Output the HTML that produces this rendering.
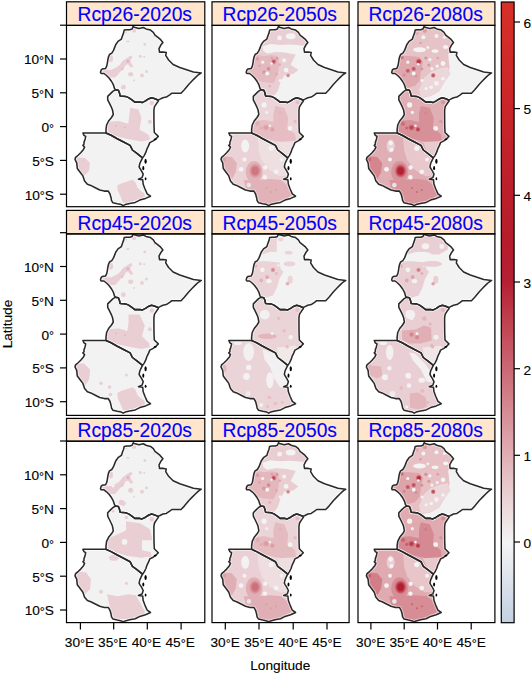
<!DOCTYPE html><html><head><meta charset="utf-8"><style>html,body{margin:0;padding:0;background:#fff;}svg{display:block}</style></head><body>
<svg width="532" height="673" viewBox="0 0 532 673">
<defs>
<clipPath id="land" clipPathUnits="userSpaceOnUse"><polygon points="133.2,26.4 134.3,27.3 138.9,28.4 143.4,27.5 146.0,28.9 150.5,30.1 153.3,32.3 155.0,35.1 157.3,36.8 160.1,39.1 162.9,42.5 160.7,45.3 159.0,48.7 159.5,52.1 163.5,52.1 166.3,52.6 165.7,55.4 168.6,60.0 173.1,64.5 179.8,67.5 186.6,69.8 193.4,72.0 201.3,72.9 198.4,74.8 195.6,77.4 192.2,80.8 188.9,84.2 186.6,87.0 184.3,89.8 181.0,93.2 176.4,93.2 171.9,93.2 169.7,94.9 166.3,97.1 162.9,97.7 159.5,99.4 157.8,100.0 155.0,98.8 151.6,97.7 148.9,98.7 145.5,100.9 142.1,102.6 139.8,102.1 134.8,102.1 131.9,99.8 128.6,97.6 125.7,96.4 120.1,95.9 119.5,93.0 118.4,90.2 115.6,89.7 114.5,88.5 113.3,84.6 111.6,81.5 109.0,78.0 106.5,75.5 103.9,73.5 101.1,73.5 100.5,72.4 101.1,70.1 102.2,69.0 105.6,68.4 106.7,66.2 107.3,63.3 107.8,60.0 108.4,57.1 109.5,54.5 111.8,53.2 113.5,50.4 114.6,47.6 115.7,44.7 118.0,41.4 121.4,39.1 122.5,35.7 123.6,32.9 124.2,30.1 126.5,29.7 129.8,29.7 132.1,28.9"/><polygon points="115.6,89.7 118.4,90.2 119.5,93.0 120.1,95.9 125.7,96.4 128.6,97.6 131.9,99.8 134.8,102.1 139.8,102.1 142.1,102.6 145.5,100.9 148.9,98.7 151.6,97.7 155.0,98.8 157.8,100.0 158.4,101.1 156.7,103.3 154.5,106.7 153.9,110.1 153.9,115.0 154.0,125.8 154.3,132.5 158.3,136.4 155.5,139.2 153.2,140.9 149.8,142.6 148.7,145.4 147.0,148.8 145.9,152.2 144.2,155.6 142.5,157.9 141.9,157.3 136.9,153.3 132.4,150.0 130.1,145.4 122.6,141.5 116.8,138.5 111.1,135.3 106.0,133.0 106.0,129.5 106.6,125.0 108.6,121.0 111.5,117.5 113.3,114.5 112.5,110.0 111.6,107.7 109.4,103.2 107.7,99.8 107.7,96.4 110.5,93.6 112.8,91.4"/><polygon points="106.0,133.0 82.9,133.0 84.0,135.3 85.7,136.4 85.2,138.7 84.6,140.9 84.0,142.1 84.0,144.3 82.9,145.4 84.6,147.1 83.5,149.4 80.7,152.8 78.4,155.0 75.6,157.3 75.0,159.5 76.7,162.9 77.3,168.5 80.7,173.0 82.9,175.9 84.6,180.9 87.4,184.3 90.8,185.4 95.3,187.7 99.8,190.0 104.3,191.1 108.3,191.1 110.0,194.0 111.1,198.0 111.5,200.5 113.0,202.8 117.3,203.8 121.3,204.6 123.2,205.6 125.2,204.6 129.7,203.5 135.3,202.4 139.8,200.1 145.5,198.4 150.5,196.2 147.2,193.9 144.9,188.8 143.2,184.3 142.7,179.8 138.4,179.2 142.1,177.6 143.2,174.2 141.5,170.8 140.0,168.5 139.1,166.9 139.8,163.5 141.4,160.1 142.5,157.9 141.9,157.3 136.9,153.3 132.4,150.0 130.1,145.4 122.6,141.5 116.8,138.5 111.1,135.3"/></clipPath>
<filter id="bl" x="-20%" y="-20%" width="140%" height="140%"><feGaussianBlur stdDeviation="0.6"/></filter>
<filter id="bl2" x="-20%" y="-20%" width="140%" height="140%"><feGaussianBlur stdDeviation="1.6"/></filter>
<linearGradient id="cb" x1="0" y1="0" x2="0" y2="1"><stop offset="0.0" stop-color="#D82F28"/><stop offset="0.1718" stop-color="#C8262A"/><stop offset="0.3115" stop-color="#BA1F2B"/><stop offset="0.3813" stop-color="#B71C2C"/><stop offset="0.4511" stop-color="#B42033"/><stop offset="0.5209" stop-color="#C14452"/><stop offset="0.5908" stop-color="#CA6874"/><stop offset="0.6606" stop-color="#D68C94"/><stop offset="0.7304" stop-color="#E0AFB5"/><stop offset="0.7654" stop-color="#E6C1C5"/><stop offset="0.8003" stop-color="#EAD2D6"/><stop offset="0.8352" stop-color="#EFE2E3"/><stop offset="0.8701" stop-color="#F4F4F4"/><stop offset="0.9399" stop-color="#DAE0EA"/><stop offset="1.0" stop-color="#C2D1E2"/></linearGradient>
</defs>
<g transform="matrix(1.0,0,0,1,0.0,0)">
<g clip-path="url(#land)">
<g filter="url(#bl)"><rect x="60" y="20" width="150" height="190" fill="#F3F2F2"/>
<polygon points="101.4,70.9 107,69.7 111.5,69.7 116,67.5 119.4,65.2 122.8,60.7 126.2,58.4 129.6,56.2 131.8,55.6 132.4,57.3 130.1,60.7 131.8,64.1 133.5,66.3 130.7,67.5 127.9,64.1 125.6,65.2 123.9,68.6 120,72 117.2,75.4 114.9,77.6 110.4,77.6 107,75.4 103.6,73.1" fill="#E9CFD3"/>
<ellipse cx="110.8" cy="58.5" rx="2.2" ry="3.5" fill="#E9CFD3"/>
<circle cx="127.9" cy="61.3" r="1.3" fill="#E0AFB5"/>
<circle cx="122.2" cy="69.2" r="1.1" fill="#E5BDC2"/>
<circle cx="134.1" cy="30.8" r="2.0" fill="#E9CFD3"/>
<ellipse cx="127.9" cy="41.5" rx="1.6" ry="0.9" fill="#E9CFD3"/>
<circle cx="144.8" cy="44.4" r="1.4" fill="#E9CFD3"/>
<circle cx="140.3" cy="56.2" r="1.5" fill="#E9CFD3"/>
<circle cx="144.2" cy="56.8" r="1.0" fill="#E9CFD3"/>
<ellipse cx="130.7" cy="74.2" rx="2.6" ry="2.2" fill="#E9CFD3"/>
<circle cx="142" cy="75.4" r="1.9" fill="#E9CFD3"/>
<circle cx="146.5" cy="71.4" r="1.5" fill="#E9CFD3"/>
<circle cx="134.1" cy="80.4" r="1.0" fill="#E9CFD3"/>
<circle cx="123.4" cy="87.2" r="2.4" fill="#E9CFD3"/>
<circle cx="126.2" cy="32" r="1.0" fill="#E9CFD3"/>
<circle cx="154.4" cy="36.5" r="1.0" fill="#E9CFD3"/>
<circle cx="151.8" cy="103" r="2.2" fill="#E9CFD3"/>
<circle cx="149.9" cy="121.8" r="2.0" fill="#E9CFD3"/>
<polygon points="130.2,107.7 138.6,109.6 141.4,118.1 139.5,129.4 148.9,135 149.9,139.7 141.4,141.6 126.4,138.8 115.1,135.9 107.6,132.2 107.6,121.8 118.9,120.9 128.3,123.7 129.2,116.2" fill="#E9CFD3"/>
<circle cx="116" cy="126" r="1.0" fill="#E4BABF"/>
<circle cx="125" cy="127.5" r="1.0" fill="#E4BABF"/>
<polygon points="75,157 85,158 90,163 89,171 83,177 77,168" fill="#E9CFD3"/>
<polygon points="117.3,185.4 121.8,183.2 128.6,180.9 132.5,179.8 135.3,182.1 137.6,187.7 141,191.1 144.3,193.3 144.9,196.7 139.8,199 133.1,201.2 126.3,202.9 122.9,202.4 120.7,196.7 117.8,191.1" fill="#E9CFD3"/></g>
</g>
<polygon points="133.2,26.4 134.3,27.3 138.9,28.4 143.4,27.5 146.0,28.9 150.5,30.1 153.3,32.3 155.0,35.1 157.3,36.8 160.1,39.1 162.9,42.5 160.7,45.3 159.0,48.7 159.5,52.1 163.5,52.1 166.3,52.6 165.7,55.4 168.6,60.0 173.1,64.5 179.8,67.5 186.6,69.8 193.4,72.0 201.3,72.9 198.4,74.8 195.6,77.4 192.2,80.8 188.9,84.2 186.6,87.0 184.3,89.8 181.0,93.2 176.4,93.2 171.9,93.2 169.7,94.9 166.3,97.1 162.9,97.7 159.5,99.4 157.8,100.0 155.0,98.8 151.6,97.7 148.9,98.7 145.5,100.9 142.1,102.6 139.8,102.1 134.8,102.1 131.9,99.8 128.6,97.6 125.7,96.4 120.1,95.9 119.5,93.0 118.4,90.2 115.6,89.7 114.5,88.5 113.3,84.6 111.6,81.5 109.0,78.0 106.5,75.5 103.9,73.5 101.1,73.5 100.5,72.4 101.1,70.1 102.2,69.0 105.6,68.4 106.7,66.2 107.3,63.3 107.8,60.0 108.4,57.1 109.5,54.5 111.8,53.2 113.5,50.4 114.6,47.6 115.7,44.7 118.0,41.4 121.4,39.1 122.5,35.7 123.6,32.9 124.2,30.1 126.5,29.7 129.8,29.7 132.1,28.9" fill="none" stroke="#fff" stroke-opacity="0.5" stroke-width="3.4" stroke-linejoin="round"/>
<polygon points="115.6,89.7 118.4,90.2 119.5,93.0 120.1,95.9 125.7,96.4 128.6,97.6 131.9,99.8 134.8,102.1 139.8,102.1 142.1,102.6 145.5,100.9 148.9,98.7 151.6,97.7 155.0,98.8 157.8,100.0 158.4,101.1 156.7,103.3 154.5,106.7 153.9,110.1 153.9,115.0 154.0,125.8 154.3,132.5 158.3,136.4 155.5,139.2 153.2,140.9 149.8,142.6 148.7,145.4 147.0,148.8 145.9,152.2 144.2,155.6 142.5,157.9 141.9,157.3 136.9,153.3 132.4,150.0 130.1,145.4 122.6,141.5 116.8,138.5 111.1,135.3 106.0,133.0 106.0,129.5 106.6,125.0 108.6,121.0 111.5,117.5 113.3,114.5 112.5,110.0 111.6,107.7 109.4,103.2 107.7,99.8 107.7,96.4 110.5,93.6 112.8,91.4" fill="none" stroke="#fff" stroke-opacity="0.5" stroke-width="3.4" stroke-linejoin="round"/>
<polygon points="106.0,133.0 82.9,133.0 84.0,135.3 85.7,136.4 85.2,138.7 84.6,140.9 84.0,142.1 84.0,144.3 82.9,145.4 84.6,147.1 83.5,149.4 80.7,152.8 78.4,155.0 75.6,157.3 75.0,159.5 76.7,162.9 77.3,168.5 80.7,173.0 82.9,175.9 84.6,180.9 87.4,184.3 90.8,185.4 95.3,187.7 99.8,190.0 104.3,191.1 108.3,191.1 110.0,194.0 111.1,198.0 111.5,200.5 113.0,202.8 117.3,203.8 121.3,204.6 123.2,205.6 125.2,204.6 129.7,203.5 135.3,202.4 139.8,200.1 145.5,198.4 150.5,196.2 147.2,193.9 144.9,188.8 143.2,184.3 142.7,179.8 138.4,179.2 142.1,177.6 143.2,174.2 141.5,170.8 140.0,168.5 139.1,166.9 139.8,163.5 141.4,160.1 142.5,157.9 141.9,157.3 136.9,153.3 132.4,150.0 130.1,145.4 122.6,141.5 116.8,138.5 111.1,135.3" fill="none" stroke="#fff" stroke-opacity="0.5" stroke-width="3.4" stroke-linejoin="round"/>
<polygon points="133.2,26.4 134.3,27.3 138.9,28.4 143.4,27.5 146.0,28.9 150.5,30.1 153.3,32.3 155.0,35.1 157.3,36.8 160.1,39.1 162.9,42.5 160.7,45.3 159.0,48.7 159.5,52.1 163.5,52.1 166.3,52.6 165.7,55.4 168.6,60.0 173.1,64.5 179.8,67.5 186.6,69.8 193.4,72.0 201.3,72.9 198.4,74.8 195.6,77.4 192.2,80.8 188.9,84.2 186.6,87.0 184.3,89.8 181.0,93.2 176.4,93.2 171.9,93.2 169.7,94.9 166.3,97.1 162.9,97.7 159.5,99.4 157.8,100.0 155.0,98.8 151.6,97.7 148.9,98.7 145.5,100.9 142.1,102.6 139.8,102.1 134.8,102.1 131.9,99.8 128.6,97.6 125.7,96.4 120.1,95.9 119.5,93.0 118.4,90.2 115.6,89.7 114.5,88.5 113.3,84.6 111.6,81.5 109.0,78.0 106.5,75.5 103.9,73.5 101.1,73.5 100.5,72.4 101.1,70.1 102.2,69.0 105.6,68.4 106.7,66.2 107.3,63.3 107.8,60.0 108.4,57.1 109.5,54.5 111.8,53.2 113.5,50.4 114.6,47.6 115.7,44.7 118.0,41.4 121.4,39.1 122.5,35.7 123.6,32.9 124.2,30.1 126.5,29.7 129.8,29.7 132.1,28.9" fill="none" stroke="#2a2a2a" stroke-width="1.55" stroke-linejoin="round"/>
<polygon points="115.6,89.7 118.4,90.2 119.5,93.0 120.1,95.9 125.7,96.4 128.6,97.6 131.9,99.8 134.8,102.1 139.8,102.1 142.1,102.6 145.5,100.9 148.9,98.7 151.6,97.7 155.0,98.8 157.8,100.0 158.4,101.1 156.7,103.3 154.5,106.7 153.9,110.1 153.9,115.0 154.0,125.8 154.3,132.5 158.3,136.4 155.5,139.2 153.2,140.9 149.8,142.6 148.7,145.4 147.0,148.8 145.9,152.2 144.2,155.6 142.5,157.9 141.9,157.3 136.9,153.3 132.4,150.0 130.1,145.4 122.6,141.5 116.8,138.5 111.1,135.3 106.0,133.0 106.0,129.5 106.6,125.0 108.6,121.0 111.5,117.5 113.3,114.5 112.5,110.0 111.6,107.7 109.4,103.2 107.7,99.8 107.7,96.4 110.5,93.6 112.8,91.4" fill="none" stroke="#2a2a2a" stroke-width="1.55" stroke-linejoin="round"/>
<polygon points="106.0,133.0 82.9,133.0 84.0,135.3 85.7,136.4 85.2,138.7 84.6,140.9 84.0,142.1 84.0,144.3 82.9,145.4 84.6,147.1 83.5,149.4 80.7,152.8 78.4,155.0 75.6,157.3 75.0,159.5 76.7,162.9 77.3,168.5 80.7,173.0 82.9,175.9 84.6,180.9 87.4,184.3 90.8,185.4 95.3,187.7 99.8,190.0 104.3,191.1 108.3,191.1 110.0,194.0 111.1,198.0 111.5,200.5 113.0,202.8 117.3,203.8 121.3,204.6 123.2,205.6 125.2,204.6 129.7,203.5 135.3,202.4 139.8,200.1 145.5,198.4 150.5,196.2 147.2,193.9 144.9,188.8 143.2,184.3 142.7,179.8 138.4,179.2 142.1,177.6 143.2,174.2 141.5,170.8 140.0,168.5 139.1,166.9 139.8,163.5 141.4,160.1 142.5,157.9 141.9,157.3 136.9,153.3 132.4,150.0 130.1,145.4 122.6,141.5 116.8,138.5 111.1,135.3" fill="none" stroke="#2a2a2a" stroke-width="1.55" stroke-linejoin="round"/>
<ellipse cx="145.6" cy="161.3" rx="1.15" ry="2.5" fill="#000"/>
<ellipse cx="143.3" cy="168.2" rx="1.0" ry="2.1" fill="#000"/>
<ellipse cx="145.6" cy="178.8" rx="0.9" ry="1.5" fill="#000"/>
<ellipse cx="155.2" cy="139.3" rx="1.4" ry="0.9" fill="#000"/>
</g>
<g transform="matrix(0.988,0,0,1,146.9,0)">
<g clip-path="url(#land)">
<g filter="url(#bl)"><rect x="60" y="20" width="150" height="190" fill="#F3F2F2"/>
<polygon points="95,20 157,20 161,30 161.3,44 150.8,54.3 145.5,64.8 153.4,70.1 148.1,74.1 138.9,75.4 135,83.3 132.3,91.2 125,100 95,100" fill="#E9CFD3"/>
<polygon points="117,46.5 125,44 135,45 145,44.5 152,45 162,46 162,54 150,54.5 140,52.5 130,52 122,53.5 118,51" fill="#F4F3F3"/>
<polygon points="100,56 108.7,54.3 118,56 126,55 132.3,56 134,64 132.3,75 128,83.3 118,82 108.7,80 100,74" fill="#E4BABF"/>
<ellipse cx="128.4" cy="61.6" rx="2.60" ry="2.60" fill="#DEA9AF"/>
<ellipse cx="128.4" cy="61.6" rx="2.33" ry="2.33" fill="#D9989F"/>
<ellipse cx="128.4" cy="61.6" rx="2.06" ry="2.06" fill="#D4878F"/>
<ellipse cx="128.4" cy="61.6" rx="1.79" ry="1.79" fill="#CE7580"/>
<ellipse cx="128.4" cy="61.6" rx="1.53" ry="1.53" fill="#C96470"/>
<ellipse cx="128.4" cy="61.6" rx="1.26" ry="1.26" fill="#C55260"/>
<circle cx="131.7" cy="58.3" r="1.6" fill="#DB9EA4"/>
<ellipse cx="123.1" cy="68.8" rx="2.20" ry="2.20" fill="#DFAAB1"/>
<ellipse cx="123.1" cy="68.8" rx="1.75" ry="1.75" fill="#DA9BA2"/>
<ellipse cx="123.1" cy="68.8" rx="1.29" ry="1.29" fill="#D68C94"/>
<circle cx="111.9" cy="58.9" r="1.8" fill="#DCA1A8"/>
<circle cx="118.5" cy="72.1" r="1.9" fill="#DA9AA1"/>
<ellipse cx="142.9" cy="75.4" rx="2.00" ry="2.00" fill="#E4BCC1"/>
<ellipse cx="142.9" cy="75.4" rx="1.69" ry="1.69" fill="#DEAAB0"/>
<ellipse cx="142.9" cy="75.4" rx="1.38" ry="1.38" fill="#D9979F"/>
<ellipse cx="142.9" cy="75.4" rx="1.07" ry="1.07" fill="#D4858E"/>
<circle cx="131" cy="74.1" r="1.5" fill="#E0AFB5"/>
<circle cx="124.4" cy="85.9" r="1.5" fill="#E2B6BB"/>
<circle cx="126.5" cy="58" r="1.2" fill="#DCA1A8"/>
<circle cx="134.5" cy="64.5" r="1.2" fill="#DEA8AE"/>
<circle cx="114" cy="66" r="1.3" fill="#DEA8AE"/>
<circle cx="134.3" cy="37.9" r="2.4" fill="#F4F3F3"/>
<ellipse cx="145.5" cy="36.2" rx="5" ry="3" fill="#F4F3F3"/>
<circle cx="117.2" cy="62.2" r="1.6" fill="#F4F3F3"/>
<circle cx="121.8" cy="73.4" r="2.0" fill="#F4F3F3"/>
<circle cx="138.9" cy="60.2" r="2.0" fill="#F4F3F3"/>
<circle cx="140.9" cy="70.1" r="2.4" fill="#F4F3F3"/>
<circle cx="135" cy="80.6" r="1.6" fill="#F4F3F3"/>
<circle cx="126.2" cy="63.5" r="1.2" fill="#F4F3F3"/>
<polygon points="115.6,89.7 118.4,90.2 119.5,93 120.1,95.9 125.7,96.4 128.6,97.6 131.9,99.8 134.8,102.1 139.8,102.1 142.1,102.6 145.5,100.9 148.9,98.7 151.6,97.7 155,98.8 157.8,100 158.4,101.1 156.7,103.3 154.5,106.7 153.9,110.1 153.9,115 154,125.8 154.3,132.5 158.3,136.4 155.5,139.2 153.2,140.9 149.8,142.6 148.7,145.4 147,148.8 145.9,152.2 144.2,155.6 142.5,157.9 141.9,157.3 136.9,153.3 132.4,150 130.1,145.4 122.6,141.5 116.8,138.5 111.1,135.3 106,133 106,129.5 106.6,125 108.6,121 111.5,117.5 113.3,114.5 112.5,110 111.6,107.7 109.4,103.2 107.7,99.8 107.7,96.4 110.5,93.6 112.8,91.4" fill="#EBD5D9"/>
<polygon points="130,106 139,108 143,118 142,128 150,134 151,141 141,143 126,140 114,137 107,133 107,121 119,120 128,122 128,114" fill="#E5BDC2"/>
<polygon points="132,142 150,141 153,143 143,158 138,155" fill="#EEDFE0"/>
<ellipse cx="120.5" cy="127.5" rx="3.00" ry="3.00" fill="#E0AFB5"/>
<ellipse cx="120.5" cy="127.5" rx="2.07" ry="2.07" fill="#DCA1A8"/>
<ellipse cx="127" cy="129.4" rx="2.40" ry="2.40" fill="#E0AFB5"/>
<ellipse cx="127" cy="129.4" rx="1.66" ry="1.66" fill="#DCA1A8"/>
<ellipse cx="112" cy="123.7" rx="2.20" ry="2.20" fill="#E0AFB5"/>
<circle cx="152.4" cy="102.1" r="2.0" fill="#E5BDC2"/>
<circle cx="150" cy="121.5" r="1.8" fill="#E5BDC2"/>
<circle cx="135" cy="113" r="1.6" fill="#E2B6BB"/>
<circle cx="115.7" cy="128" r="1.6" fill="#E0AFB5"/>
<circle cx="118.6" cy="104.9" r="2.6" fill="#F4F3F3"/>
<circle cx="144.9" cy="128.4" r="2.4" fill="#F4F3F3"/>
<circle cx="121.4" cy="112.4" r="1.6" fill="#F2EEEF"/>
<circle cx="124.5" cy="125.8" r="1.3" fill="#F2EEEF"/>
<polygon points="106,133 82.9,133 84,135.3 85.7,136.4 85.2,138.7 84.6,140.9 84,142.1 84,144.3 82.9,145.4 84.6,147.1 83.5,149.4 80.7,152.8 78.4,155 75.6,157.3 75,159.5 76.7,162.9 77.3,168.5 80.7,173 82.9,175.9 84.6,180.9 87.4,184.3 90.8,185.4 95.3,187.7 99.8,190 104.3,191.1 108.3,191.1 110,194 111.1,198 111.5,200.5 113,202.8 117.3,203.8 121.3,204.6 123.2,205.6 125.2,204.6 129.7,203.5 135.3,202.4 139.8,200.1 145.5,198.4 150.5,196.2 147.2,193.9 144.9,188.8 143.2,184.3 142.7,179.8 138.4,179.2 142.1,177.6 143.2,174.2 141.5,170.8 140,168.5 139.1,166.9 139.8,163.5 141.4,160.1 142.5,157.9 141.9,157.3 136.9,153.3 132.4,150 130.1,145.4 122.6,141.5 116.8,138.5 111.1,135.3" fill="#EAD2D6"/>
<polygon points="112,137 132,148 142,158 142,176 134,176 124,170 116,160 113,150" fill="#EEDFE0"/>
<ellipse cx="99.5" cy="146" rx="4" ry="6.5" fill="#F3F2F2"/>
<polygon points="74,156 86,157 91,163 90,172 86,179 76,168" fill="#E1B3B8"/>
<circle cx="77.7" cy="159.5" r="2.2" fill="#DCA1A8"/>
<polygon points="98,180 112,180 125,179 136,180 142,185 147,195 140,200 125,205 112,203 108,192 100,188" fill="#E1B3B8"/>
<ellipse cx="108.5" cy="172" rx="8.5" ry="11" fill="#E1B3B8"/>
<ellipse cx="109.5" cy="170.8" rx="6.00" ry="7.00" fill="#DB9FA6"/>
<ellipse cx="109.5" cy="170.8" rx="4.76" ry="5.55" fill="#D68B93"/>
<ellipse cx="109.5" cy="170.8" rx="3.52" ry="4.11" fill="#CF7681"/>
<circle cx="121" cy="188" r="1.0" fill="#DCA1A8"/>
<circle cx="126" cy="192" r="1.0" fill="#DCA1A8"/>
<circle cx="131" cy="190" r="1.0" fill="#DCA1A8"/>
<circle cx="99.5" cy="143" r="2.2" fill="#F4F3F3"/>
<circle cx="100.3" cy="149.8" r="2.0" fill="#F4F3F3"/>
<circle cx="98.8" cy="159.5" r="2.0" fill="#F4F3F3"/>
<circle cx="95.3" cy="169.3" r="2.4" fill="#F4F3F3"/>
<circle cx="119.7" cy="167.5" r="2.2" fill="#F4F3F3"/>
<circle cx="125.8" cy="148.3" r="2.6" fill="#F4F3F3"/>
<circle cx="130.8" cy="171.8" r="2.4" fill="#F4F3F3"/>
<circle cx="119.4" cy="177.3" r="2.2" fill="#F4F3F3"/>
<circle cx="103.2" cy="185.1" r="2.3" fill="#E2E6ED"/>
<circle cx="136.2" cy="159.5" r="2.0" fill="#F4F3F3"/></g>
</g>
<polygon points="133.2,26.4 134.3,27.3 138.9,28.4 143.4,27.5 146.0,28.9 150.5,30.1 153.3,32.3 155.0,35.1 157.3,36.8 160.1,39.1 162.9,42.5 160.7,45.3 159.0,48.7 159.5,52.1 163.5,52.1 166.3,52.6 165.7,55.4 168.6,60.0 173.1,64.5 179.8,67.5 186.6,69.8 193.4,72.0 201.3,72.9 198.4,74.8 195.6,77.4 192.2,80.8 188.9,84.2 186.6,87.0 184.3,89.8 181.0,93.2 176.4,93.2 171.9,93.2 169.7,94.9 166.3,97.1 162.9,97.7 159.5,99.4 157.8,100.0 155.0,98.8 151.6,97.7 148.9,98.7 145.5,100.9 142.1,102.6 139.8,102.1 134.8,102.1 131.9,99.8 128.6,97.6 125.7,96.4 120.1,95.9 119.5,93.0 118.4,90.2 115.6,89.7 114.5,88.5 113.3,84.6 111.6,81.5 109.0,78.0 106.5,75.5 103.9,73.5 101.1,73.5 100.5,72.4 101.1,70.1 102.2,69.0 105.6,68.4 106.7,66.2 107.3,63.3 107.8,60.0 108.4,57.1 109.5,54.5 111.8,53.2 113.5,50.4 114.6,47.6 115.7,44.7 118.0,41.4 121.4,39.1 122.5,35.7 123.6,32.9 124.2,30.1 126.5,29.7 129.8,29.7 132.1,28.9" fill="none" stroke="#fff" stroke-opacity="0.5" stroke-width="3.4" stroke-linejoin="round"/>
<polygon points="115.6,89.7 118.4,90.2 119.5,93.0 120.1,95.9 125.7,96.4 128.6,97.6 131.9,99.8 134.8,102.1 139.8,102.1 142.1,102.6 145.5,100.9 148.9,98.7 151.6,97.7 155.0,98.8 157.8,100.0 158.4,101.1 156.7,103.3 154.5,106.7 153.9,110.1 153.9,115.0 154.0,125.8 154.3,132.5 158.3,136.4 155.5,139.2 153.2,140.9 149.8,142.6 148.7,145.4 147.0,148.8 145.9,152.2 144.2,155.6 142.5,157.9 141.9,157.3 136.9,153.3 132.4,150.0 130.1,145.4 122.6,141.5 116.8,138.5 111.1,135.3 106.0,133.0 106.0,129.5 106.6,125.0 108.6,121.0 111.5,117.5 113.3,114.5 112.5,110.0 111.6,107.7 109.4,103.2 107.7,99.8 107.7,96.4 110.5,93.6 112.8,91.4" fill="none" stroke="#fff" stroke-opacity="0.5" stroke-width="3.4" stroke-linejoin="round"/>
<polygon points="106.0,133.0 82.9,133.0 84.0,135.3 85.7,136.4 85.2,138.7 84.6,140.9 84.0,142.1 84.0,144.3 82.9,145.4 84.6,147.1 83.5,149.4 80.7,152.8 78.4,155.0 75.6,157.3 75.0,159.5 76.7,162.9 77.3,168.5 80.7,173.0 82.9,175.9 84.6,180.9 87.4,184.3 90.8,185.4 95.3,187.7 99.8,190.0 104.3,191.1 108.3,191.1 110.0,194.0 111.1,198.0 111.5,200.5 113.0,202.8 117.3,203.8 121.3,204.6 123.2,205.6 125.2,204.6 129.7,203.5 135.3,202.4 139.8,200.1 145.5,198.4 150.5,196.2 147.2,193.9 144.9,188.8 143.2,184.3 142.7,179.8 138.4,179.2 142.1,177.6 143.2,174.2 141.5,170.8 140.0,168.5 139.1,166.9 139.8,163.5 141.4,160.1 142.5,157.9 141.9,157.3 136.9,153.3 132.4,150.0 130.1,145.4 122.6,141.5 116.8,138.5 111.1,135.3" fill="none" stroke="#fff" stroke-opacity="0.5" stroke-width="3.4" stroke-linejoin="round"/>
<polygon points="133.2,26.4 134.3,27.3 138.9,28.4 143.4,27.5 146.0,28.9 150.5,30.1 153.3,32.3 155.0,35.1 157.3,36.8 160.1,39.1 162.9,42.5 160.7,45.3 159.0,48.7 159.5,52.1 163.5,52.1 166.3,52.6 165.7,55.4 168.6,60.0 173.1,64.5 179.8,67.5 186.6,69.8 193.4,72.0 201.3,72.9 198.4,74.8 195.6,77.4 192.2,80.8 188.9,84.2 186.6,87.0 184.3,89.8 181.0,93.2 176.4,93.2 171.9,93.2 169.7,94.9 166.3,97.1 162.9,97.7 159.5,99.4 157.8,100.0 155.0,98.8 151.6,97.7 148.9,98.7 145.5,100.9 142.1,102.6 139.8,102.1 134.8,102.1 131.9,99.8 128.6,97.6 125.7,96.4 120.1,95.9 119.5,93.0 118.4,90.2 115.6,89.7 114.5,88.5 113.3,84.6 111.6,81.5 109.0,78.0 106.5,75.5 103.9,73.5 101.1,73.5 100.5,72.4 101.1,70.1 102.2,69.0 105.6,68.4 106.7,66.2 107.3,63.3 107.8,60.0 108.4,57.1 109.5,54.5 111.8,53.2 113.5,50.4 114.6,47.6 115.7,44.7 118.0,41.4 121.4,39.1 122.5,35.7 123.6,32.9 124.2,30.1 126.5,29.7 129.8,29.7 132.1,28.9" fill="none" stroke="#2a2a2a" stroke-width="1.55" stroke-linejoin="round"/>
<polygon points="115.6,89.7 118.4,90.2 119.5,93.0 120.1,95.9 125.7,96.4 128.6,97.6 131.9,99.8 134.8,102.1 139.8,102.1 142.1,102.6 145.5,100.9 148.9,98.7 151.6,97.7 155.0,98.8 157.8,100.0 158.4,101.1 156.7,103.3 154.5,106.7 153.9,110.1 153.9,115.0 154.0,125.8 154.3,132.5 158.3,136.4 155.5,139.2 153.2,140.9 149.8,142.6 148.7,145.4 147.0,148.8 145.9,152.2 144.2,155.6 142.5,157.9 141.9,157.3 136.9,153.3 132.4,150.0 130.1,145.4 122.6,141.5 116.8,138.5 111.1,135.3 106.0,133.0 106.0,129.5 106.6,125.0 108.6,121.0 111.5,117.5 113.3,114.5 112.5,110.0 111.6,107.7 109.4,103.2 107.7,99.8 107.7,96.4 110.5,93.6 112.8,91.4" fill="none" stroke="#2a2a2a" stroke-width="1.55" stroke-linejoin="round"/>
<polygon points="106.0,133.0 82.9,133.0 84.0,135.3 85.7,136.4 85.2,138.7 84.6,140.9 84.0,142.1 84.0,144.3 82.9,145.4 84.6,147.1 83.5,149.4 80.7,152.8 78.4,155.0 75.6,157.3 75.0,159.5 76.7,162.9 77.3,168.5 80.7,173.0 82.9,175.9 84.6,180.9 87.4,184.3 90.8,185.4 95.3,187.7 99.8,190.0 104.3,191.1 108.3,191.1 110.0,194.0 111.1,198.0 111.5,200.5 113.0,202.8 117.3,203.8 121.3,204.6 123.2,205.6 125.2,204.6 129.7,203.5 135.3,202.4 139.8,200.1 145.5,198.4 150.5,196.2 147.2,193.9 144.9,188.8 143.2,184.3 142.7,179.8 138.4,179.2 142.1,177.6 143.2,174.2 141.5,170.8 140.0,168.5 139.1,166.9 139.8,163.5 141.4,160.1 142.5,157.9 141.9,157.3 136.9,153.3 132.4,150.0 130.1,145.4 122.6,141.5 116.8,138.5 111.1,135.3" fill="none" stroke="#2a2a2a" stroke-width="1.55" stroke-linejoin="round"/>
<ellipse cx="145.6" cy="161.3" rx="1.15" ry="2.5" fill="#000"/>
<ellipse cx="143.3" cy="168.2" rx="1.0" ry="2.1" fill="#000"/>
<ellipse cx="145.6" cy="178.8" rx="0.9" ry="1.5" fill="#000"/>
<ellipse cx="155.2" cy="139.3" rx="1.4" ry="0.9" fill="#000"/>
</g>
<g transform="matrix(0.9913,0,0,1,292.05,0)">
<g clip-path="url(#land)">
<g filter="url(#bl)"><rect x="60" y="20" width="150" height="190" fill="#F3F2F2"/>
<polygon points="95,20 165,20 165,45 157.5,54.3 158.9,67.5 157.5,74.1 152.3,84.6 148.3,91.2 140,96 130,98 95,100" fill="#E6C3C7"/>
<polygon points="133,78 140,72 150,68 157,67 160,74 152,84.6 148,91 140,96 130,97 128,90" fill="#ECD8DB"/>
<ellipse cx="128.6" cy="49.7" rx="6.5" ry="2.5" fill="#F4F3F3"/>
<ellipse cx="144.3" cy="51" rx="3.5" ry="1.8" fill="#F4F3F3"/>
<ellipse cx="154.9" cy="47" rx="2.6" ry="1.9" fill="#F4F3F3"/>
<circle cx="137" cy="47.5" r="1.4" fill="#F4F3F3"/>
<polygon points="100,58 108.9,56 118,56 128.6,57 132,62 130,72 128.6,80.6 124,86 116,88 110,83 104,77 100,74" fill="#DEA8AE"/>
<circle cx="133.9" cy="30.6" r="2.2" fill="#DA9AA1"/>
<circle cx="126" cy="33.3" r="2.0" fill="#E0AFB5"/>
<ellipse cx="127.9" cy="61.6" rx="3.00" ry="3.00" fill="#D9959D"/>
<ellipse cx="127.9" cy="61.6" rx="2.69" ry="2.69" fill="#D3828B"/>
<ellipse cx="127.9" cy="61.6" rx="2.38" ry="2.38" fill="#CC6F7A"/>
<ellipse cx="127.9" cy="61.6" rx="2.07" ry="2.07" fill="#C75C69"/>
<ellipse cx="127.9" cy="61.6" rx="1.76" ry="1.76" fill="#C24957"/>
<ellipse cx="127.9" cy="61.6" rx="1.45" ry="1.45" fill="#BC3646"/>
<ellipse cx="122.7" cy="68.8" rx="2.40" ry="2.40" fill="#D9979F"/>
<ellipse cx="122.7" cy="68.8" rx="2.10" ry="2.10" fill="#D4868F"/>
<ellipse cx="122.7" cy="68.8" rx="1.80" ry="1.80" fill="#CE7580"/>
<ellipse cx="122.7" cy="68.8" rx="1.51" ry="1.51" fill="#C96470"/>
<ellipse cx="122.7" cy="68.8" rx="1.21" ry="1.21" fill="#C55260"/>
<ellipse cx="116.8" cy="70.8" rx="2.40" ry="2.40" fill="#D8959C"/>
<ellipse cx="116.8" cy="70.8" rx="2.03" ry="2.03" fill="#D2818A"/>
<ellipse cx="116.8" cy="70.8" rx="1.66" ry="1.66" fill="#CC6D79"/>
<ellipse cx="116.8" cy="70.8" rx="1.28" ry="1.28" fill="#C65A66"/>
<ellipse cx="142.4" cy="75.4" rx="2.30" ry="2.30" fill="#E0B0B6"/>
<ellipse cx="142.4" cy="75.4" rx="2.06" ry="2.06" fill="#DB9EA5"/>
<ellipse cx="142.4" cy="75.4" rx="1.82" ry="1.82" fill="#D68B93"/>
<ellipse cx="142.4" cy="75.4" rx="1.59" ry="1.59" fill="#CF7883"/>
<ellipse cx="142.4" cy="75.4" rx="1.35" ry="1.35" fill="#C96572"/>
<ellipse cx="142.4" cy="75.4" rx="1.11" ry="1.11" fill="#C55260"/>
<ellipse cx="110.8" cy="57.6" rx="2.00" ry="2.00" fill="#D9959D"/>
<ellipse cx="110.8" cy="57.6" rx="1.59" ry="1.59" fill="#D3828B"/>
<ellipse cx="110.8" cy="57.6" rx="1.17" ry="1.17" fill="#CC6F7A"/>
<circle cx="135" cy="58" r="1.6" fill="#D8939B"/>
<circle cx="138" cy="65" r="1.5" fill="#DA9AA1"/>
<circle cx="131" cy="69" r="1.4" fill="#D8939B"/>
<circle cx="125" cy="76" r="1.5" fill="#D8939B"/>
<circle cx="113" cy="75" r="1.5" fill="#D68C94"/>
<circle cx="147" cy="58" r="1.3" fill="#DCA1A8"/>
<circle cx="129.5" cy="43" r="1.3" fill="#DCA1A8"/>
<circle cx="132.5" cy="37.2" r="2.0" fill="#F4F3F3"/>
<circle cx="145.7" cy="35.9" r="2.0" fill="#F4F3F3"/>
<circle cx="153.6" cy="37.2" r="1.5" fill="#F4F3F3"/>
<circle cx="116.8" cy="62.2" r="1.6" fill="#F4F3F3"/>
<circle cx="122.7" cy="73.4" r="2.0" fill="#F4F3F3"/>
<circle cx="127.3" cy="64.2" r="1.3" fill="#F4F3F3"/>
<circle cx="139.1" cy="59.6" r="1.6" fill="#F4F3F3"/>
<circle cx="141.1" cy="68.8" r="1.6" fill="#F4F3F3"/>
<circle cx="146.4" cy="66.2" r="1.6" fill="#F4F3F3"/>
<circle cx="152.3" cy="63.5" r="2.4" fill="#F4F3F3"/>
<circle cx="145.7" cy="83.3" r="2.4" fill="#F4F3F3"/>
<circle cx="152.3" cy="78.7" r="1.8" fill="#F4F3F3"/>
<circle cx="140.4" cy="87.2" r="1.8" fill="#F4F3F3"/>
<circle cx="131.2" cy="80.6" r="1.5" fill="#F4F3F3"/>
<circle cx="135.2" cy="88.5" r="1.5" fill="#F4F3F3"/>
<polygon points="115.6,89.7 118.4,90.2 119.5,93 120.1,95.9 125.7,96.4 128.6,97.6 131.9,99.8 134.8,102.1 139.8,102.1 142.1,102.6 145.5,100.9 148.9,98.7 151.6,97.7 155,98.8 157.8,100 158.4,101.1 156.7,103.3 154.5,106.7 153.9,110.1 153.9,115 154,125.8 154.3,132.5 158.3,136.4 155.5,139.2 153.2,140.9 149.8,142.6 148.7,145.4 147,148.8 145.9,152.2 144.2,155.6 142.5,157.9 141.9,157.3 136.9,153.3 132.4,150 130.1,145.4 122.6,141.5 116.8,138.5 111.1,135.3 106,133 106,129.5 106.6,125 108.6,121 111.5,117.5 113.3,114.5 112.5,110 111.6,107.7 109.4,103.2 107.7,99.8 107.7,96.4 110.5,93.6 112.8,91.4" fill="#E0AFB5"/>
<polygon points="130,106 139,108 143,118 142,128 150,134 151,141 141,143 126,140 114,137 107,133 107,121 119,120 128,122 128,114" fill="#D79097"/>
<polygon points="132,142 150,141 153,143 143,158 138,155" fill="#E8CBCF"/>
<ellipse cx="120.5" cy="127.5" rx="3.00" ry="3.00" fill="#D17D86"/>
<ellipse cx="120.5" cy="127.5" rx="2.54" ry="2.54" fill="#CB6A76"/>
<ellipse cx="120.5" cy="127.5" rx="2.07" ry="2.07" fill="#C65764"/>
<ellipse cx="120.5" cy="127.5" rx="1.60" ry="1.60" fill="#C14452"/>
<ellipse cx="127" cy="129.4" rx="2.40" ry="2.40" fill="#D27F88"/>
<ellipse cx="127" cy="129.4" rx="2.10" ry="2.10" fill="#CC6E7A"/>
<ellipse cx="127" cy="129.4" rx="1.80" ry="1.80" fill="#C75E6A"/>
<ellipse cx="127" cy="129.4" rx="1.51" ry="1.51" fill="#C34D5B"/>
<ellipse cx="127" cy="129.4" rx="1.21" ry="1.21" fill="#BE3D4C"/>
<ellipse cx="112" cy="123.7" rx="2.20" ry="2.20" fill="#D17C86"/>
<ellipse cx="112" cy="123.7" rx="1.52" ry="1.52" fill="#CA6874"/>
<circle cx="152.4" cy="102.1" r="2.0" fill="#D8939B"/>
<circle cx="150" cy="121.5" r="1.8" fill="#DA9AA1"/>
<circle cx="135" cy="113" r="1.6" fill="#D4858E"/>
<circle cx="115.7" cy="128" r="1.6" fill="#CA6874"/>
<circle cx="118.6" cy="104.9" r="2.6" fill="#F4F3F3"/>
<circle cx="144.9" cy="128.4" r="2.4" fill="#F4F3F3"/>
<circle cx="121.4" cy="112.4" r="1.6" fill="#F2EEEF"/>
<circle cx="124.5" cy="125.8" r="1.3" fill="#F2EEEF"/>
<polygon points="106,133 82.9,133 84,135.3 85.7,136.4 85.2,138.7 84.6,140.9 84,142.1 84,144.3 82.9,145.4 84.6,147.1 83.5,149.4 80.7,152.8 78.4,155 75.6,157.3 75,159.5 76.7,162.9 77.3,168.5 80.7,173 82.9,175.9 84.6,180.9 87.4,184.3 90.8,185.4 95.3,187.7 99.8,190 104.3,191.1 108.3,191.1 110,194 111.1,198 111.5,200.5 113,202.8 117.3,203.8 121.3,204.6 123.2,205.6 125.2,204.6 129.7,203.5 135.3,202.4 139.8,200.1 145.5,198.4 150.5,196.2 147.2,193.9 144.9,188.8 143.2,184.3 142.7,179.8 138.4,179.2 142.1,177.6 143.2,174.2 141.5,170.8 140,168.5 139.1,166.9 139.8,163.5 141.4,160.1 142.5,157.9 141.9,157.3 136.9,153.3 132.4,150 130.1,145.4 122.6,141.5 116.8,138.5 111.1,135.3" fill="#E0AFB5"/>
<polygon points="112,137 132,148 142,158 142,176 134,176 124,170 116,160 113,150" fill="#E8C8CC"/>
<ellipse cx="99.5" cy="146" rx="4" ry="6.5" fill="#EAD2D6"/>
<polygon points="74,156 86,157 91,163 90,172 86,179 76,168" fill="#D4858E"/>
<circle cx="77.7" cy="159.5" r="2.2" fill="#CA6874"/>
<polygon points="98,180 112,180 125,179 136,180 142,185 147,195 140,200 125,205 112,203 108,192 100,188" fill="#D8939B"/>
<ellipse cx="108.5" cy="172" rx="8.5" ry="11" fill="#D8939B"/>
<ellipse cx="109.5" cy="170.8" rx="6.00" ry="7.00" fill="#D28089"/>
<ellipse cx="109.5" cy="170.8" rx="5.38" ry="6.28" fill="#CC6D78"/>
<ellipse cx="109.5" cy="170.8" rx="4.76" ry="5.55" fill="#C65A66"/>
<ellipse cx="109.5" cy="170.8" rx="4.14" ry="4.83" fill="#C24654"/>
<ellipse cx="109.5" cy="170.8" rx="3.52" ry="4.11" fill="#BB3344"/>
<ellipse cx="109.5" cy="170.8" rx="2.90" ry="3.38" fill="#B42033"/>
<circle cx="121" cy="188" r="1.0" fill="#CA6874"/>
<circle cx="126" cy="192" r="1.0" fill="#CA6874"/>
<circle cx="131" cy="190" r="1.0" fill="#CA6874"/>
<circle cx="99.5" cy="143" r="2.2" fill="#F4F3F3"/>
<circle cx="100.3" cy="149.8" r="2.0" fill="#F4F3F3"/>
<circle cx="98.8" cy="159.5" r="2.0" fill="#F4F3F3"/>
<circle cx="95.3" cy="169.3" r="2.4" fill="#F4F3F3"/>
<circle cx="119.7" cy="167.5" r="2.2" fill="#F4F3F3"/>
<circle cx="125.8" cy="148.3" r="2.6" fill="#F4F3F3"/>
<circle cx="130.8" cy="171.8" r="2.4" fill="#F4F3F3"/>
<circle cx="119.4" cy="177.3" r="2.2" fill="#F4F3F3"/>
<circle cx="103.2" cy="185.1" r="2.3" fill="#E2E6ED"/>
<circle cx="136.2" cy="159.5" r="2.0" fill="#F4F3F3"/></g>
</g>
<polygon points="133.2,26.4 134.3,27.3 138.9,28.4 143.4,27.5 146.0,28.9 150.5,30.1 153.3,32.3 155.0,35.1 157.3,36.8 160.1,39.1 162.9,42.5 160.7,45.3 159.0,48.7 159.5,52.1 163.5,52.1 166.3,52.6 165.7,55.4 168.6,60.0 173.1,64.5 179.8,67.5 186.6,69.8 193.4,72.0 201.3,72.9 198.4,74.8 195.6,77.4 192.2,80.8 188.9,84.2 186.6,87.0 184.3,89.8 181.0,93.2 176.4,93.2 171.9,93.2 169.7,94.9 166.3,97.1 162.9,97.7 159.5,99.4 157.8,100.0 155.0,98.8 151.6,97.7 148.9,98.7 145.5,100.9 142.1,102.6 139.8,102.1 134.8,102.1 131.9,99.8 128.6,97.6 125.7,96.4 120.1,95.9 119.5,93.0 118.4,90.2 115.6,89.7 114.5,88.5 113.3,84.6 111.6,81.5 109.0,78.0 106.5,75.5 103.9,73.5 101.1,73.5 100.5,72.4 101.1,70.1 102.2,69.0 105.6,68.4 106.7,66.2 107.3,63.3 107.8,60.0 108.4,57.1 109.5,54.5 111.8,53.2 113.5,50.4 114.6,47.6 115.7,44.7 118.0,41.4 121.4,39.1 122.5,35.7 123.6,32.9 124.2,30.1 126.5,29.7 129.8,29.7 132.1,28.9" fill="none" stroke="#fff" stroke-opacity="0.5" stroke-width="3.4" stroke-linejoin="round"/>
<polygon points="115.6,89.7 118.4,90.2 119.5,93.0 120.1,95.9 125.7,96.4 128.6,97.6 131.9,99.8 134.8,102.1 139.8,102.1 142.1,102.6 145.5,100.9 148.9,98.7 151.6,97.7 155.0,98.8 157.8,100.0 158.4,101.1 156.7,103.3 154.5,106.7 153.9,110.1 153.9,115.0 154.0,125.8 154.3,132.5 158.3,136.4 155.5,139.2 153.2,140.9 149.8,142.6 148.7,145.4 147.0,148.8 145.9,152.2 144.2,155.6 142.5,157.9 141.9,157.3 136.9,153.3 132.4,150.0 130.1,145.4 122.6,141.5 116.8,138.5 111.1,135.3 106.0,133.0 106.0,129.5 106.6,125.0 108.6,121.0 111.5,117.5 113.3,114.5 112.5,110.0 111.6,107.7 109.4,103.2 107.7,99.8 107.7,96.4 110.5,93.6 112.8,91.4" fill="none" stroke="#fff" stroke-opacity="0.5" stroke-width="3.4" stroke-linejoin="round"/>
<polygon points="106.0,133.0 82.9,133.0 84.0,135.3 85.7,136.4 85.2,138.7 84.6,140.9 84.0,142.1 84.0,144.3 82.9,145.4 84.6,147.1 83.5,149.4 80.7,152.8 78.4,155.0 75.6,157.3 75.0,159.5 76.7,162.9 77.3,168.5 80.7,173.0 82.9,175.9 84.6,180.9 87.4,184.3 90.8,185.4 95.3,187.7 99.8,190.0 104.3,191.1 108.3,191.1 110.0,194.0 111.1,198.0 111.5,200.5 113.0,202.8 117.3,203.8 121.3,204.6 123.2,205.6 125.2,204.6 129.7,203.5 135.3,202.4 139.8,200.1 145.5,198.4 150.5,196.2 147.2,193.9 144.9,188.8 143.2,184.3 142.7,179.8 138.4,179.2 142.1,177.6 143.2,174.2 141.5,170.8 140.0,168.5 139.1,166.9 139.8,163.5 141.4,160.1 142.5,157.9 141.9,157.3 136.9,153.3 132.4,150.0 130.1,145.4 122.6,141.5 116.8,138.5 111.1,135.3" fill="none" stroke="#fff" stroke-opacity="0.5" stroke-width="3.4" stroke-linejoin="round"/>
<polygon points="133.2,26.4 134.3,27.3 138.9,28.4 143.4,27.5 146.0,28.9 150.5,30.1 153.3,32.3 155.0,35.1 157.3,36.8 160.1,39.1 162.9,42.5 160.7,45.3 159.0,48.7 159.5,52.1 163.5,52.1 166.3,52.6 165.7,55.4 168.6,60.0 173.1,64.5 179.8,67.5 186.6,69.8 193.4,72.0 201.3,72.9 198.4,74.8 195.6,77.4 192.2,80.8 188.9,84.2 186.6,87.0 184.3,89.8 181.0,93.2 176.4,93.2 171.9,93.2 169.7,94.9 166.3,97.1 162.9,97.7 159.5,99.4 157.8,100.0 155.0,98.8 151.6,97.7 148.9,98.7 145.5,100.9 142.1,102.6 139.8,102.1 134.8,102.1 131.9,99.8 128.6,97.6 125.7,96.4 120.1,95.9 119.5,93.0 118.4,90.2 115.6,89.7 114.5,88.5 113.3,84.6 111.6,81.5 109.0,78.0 106.5,75.5 103.9,73.5 101.1,73.5 100.5,72.4 101.1,70.1 102.2,69.0 105.6,68.4 106.7,66.2 107.3,63.3 107.8,60.0 108.4,57.1 109.5,54.5 111.8,53.2 113.5,50.4 114.6,47.6 115.7,44.7 118.0,41.4 121.4,39.1 122.5,35.7 123.6,32.9 124.2,30.1 126.5,29.7 129.8,29.7 132.1,28.9" fill="none" stroke="#2a2a2a" stroke-width="1.55" stroke-linejoin="round"/>
<polygon points="115.6,89.7 118.4,90.2 119.5,93.0 120.1,95.9 125.7,96.4 128.6,97.6 131.9,99.8 134.8,102.1 139.8,102.1 142.1,102.6 145.5,100.9 148.9,98.7 151.6,97.7 155.0,98.8 157.8,100.0 158.4,101.1 156.7,103.3 154.5,106.7 153.9,110.1 153.9,115.0 154.0,125.8 154.3,132.5 158.3,136.4 155.5,139.2 153.2,140.9 149.8,142.6 148.7,145.4 147.0,148.8 145.9,152.2 144.2,155.6 142.5,157.9 141.9,157.3 136.9,153.3 132.4,150.0 130.1,145.4 122.6,141.5 116.8,138.5 111.1,135.3 106.0,133.0 106.0,129.5 106.6,125.0 108.6,121.0 111.5,117.5 113.3,114.5 112.5,110.0 111.6,107.7 109.4,103.2 107.7,99.8 107.7,96.4 110.5,93.6 112.8,91.4" fill="none" stroke="#2a2a2a" stroke-width="1.55" stroke-linejoin="round"/>
<polygon points="106.0,133.0 82.9,133.0 84.0,135.3 85.7,136.4 85.2,138.7 84.6,140.9 84.0,142.1 84.0,144.3 82.9,145.4 84.6,147.1 83.5,149.4 80.7,152.8 78.4,155.0 75.6,157.3 75.0,159.5 76.7,162.9 77.3,168.5 80.7,173.0 82.9,175.9 84.6,180.9 87.4,184.3 90.8,185.4 95.3,187.7 99.8,190.0 104.3,191.1 108.3,191.1 110.0,194.0 111.1,198.0 111.5,200.5 113.0,202.8 117.3,203.8 121.3,204.6 123.2,205.6 125.2,204.6 129.7,203.5 135.3,202.4 139.8,200.1 145.5,198.4 150.5,196.2 147.2,193.9 144.9,188.8 143.2,184.3 142.7,179.8 138.4,179.2 142.1,177.6 143.2,174.2 141.5,170.8 140.0,168.5 139.1,166.9 139.8,163.5 141.4,160.1 142.5,157.9 141.9,157.3 136.9,153.3 132.4,150.0 130.1,145.4 122.6,141.5 116.8,138.5 111.1,135.3" fill="none" stroke="#2a2a2a" stroke-width="1.55" stroke-linejoin="round"/>
<ellipse cx="145.6" cy="161.3" rx="1.15" ry="2.5" fill="#000"/>
<ellipse cx="143.3" cy="168.2" rx="1.0" ry="2.1" fill="#000"/>
<ellipse cx="145.6" cy="178.8" rx="0.9" ry="1.5" fill="#000"/>
<ellipse cx="155.2" cy="139.3" rx="1.4" ry="0.9" fill="#000"/>
</g>
<g transform="matrix(1.0,0,0,1,0.0,207.5)">
<g clip-path="url(#land)">
<g filter="url(#bl)"><rect x="60" y="20" width="150" height="190" fill="#F3F2F2"/>
<polygon points="101.4,70.9 107,69.7 111.5,69.7 116,67.5 119.4,65.2 122.8,60.7 126.2,58.4 129.6,56.2 131.8,55.6 132.4,57.3 130.1,60.7 131.8,64.1 133.5,66.3 130.7,67.5 127.9,64.1 125.6,65.2 123.9,68.6 120,72 117.2,75.4 114.9,77.6 110.4,77.6 107,75.4 103.6,73.1" fill="#E9CFD3"/>
<ellipse cx="110.8" cy="58.5" rx="2.2" ry="3.5" fill="#E9CFD3"/>
<circle cx="127.9" cy="61.3" r="1.3" fill="#E0AFB5"/>
<circle cx="122.2" cy="69.2" r="1.1" fill="#E5BDC2"/>
<circle cx="134.1" cy="30.8" r="2.0" fill="#E9CFD3"/>
<ellipse cx="127.9" cy="41.5" rx="1.6" ry="0.9" fill="#E9CFD3"/>
<circle cx="144.8" cy="44.4" r="1.4" fill="#E9CFD3"/>
<circle cx="140.3" cy="56.2" r="1.5" fill="#E9CFD3"/>
<circle cx="144.2" cy="56.8" r="1.0" fill="#E9CFD3"/>
<ellipse cx="130.7" cy="74.2" rx="2.6" ry="2.2" fill="#E9CFD3"/>
<circle cx="142" cy="75.4" r="1.9" fill="#E9CFD3"/>
<circle cx="146.5" cy="71.4" r="1.5" fill="#E9CFD3"/>
<circle cx="134.1" cy="80.4" r="1.0" fill="#E9CFD3"/>
<circle cx="123.4" cy="87.2" r="2.4" fill="#E9CFD3"/>
<circle cx="126.2" cy="32" r="1.0" fill="#E9CFD3"/>
<circle cx="154.4" cy="36.5" r="1.0" fill="#E9CFD3"/>
<circle cx="151.8" cy="103" r="2.2" fill="#E9CFD3"/>
<circle cx="149.9" cy="121.8" r="2.0" fill="#E9CFD3"/>
<polygon points="130.2,107.7 138.6,109.6 141.4,118.1 139.5,129.4 148.9,135 149.9,139.7 141.4,141.6 126.4,138.8 115.1,135.9 107.6,132.2 107.6,121.8 118.9,120.9 128.3,123.7 129.2,116.2" fill="#E9CFD3"/>
<circle cx="116" cy="126" r="1.0" fill="#E4BABF"/>
<circle cx="125" cy="127.5" r="1.0" fill="#E4BABF"/>
<polygon points="75,157 85,158 90,163 89,171 83,177 77,168" fill="#E9CFD3"/>
<polygon points="117.3,185.4 121.8,183.2 128.6,180.9 132.5,179.8 135.3,182.1 137.6,187.7 141,191.1 144.3,193.3 144.9,196.7 139.8,199 133.1,201.2 126.3,202.9 122.9,202.4 120.7,196.7 117.8,191.1" fill="#E9CFD3"/>
<polygon points="128.5,107 139.4,107 144.8,117.9 142.1,128.8 147.5,134.2 147.5,139.6 133.9,139.6 120.3,136.9 106.8,132.8 106.8,123.3 120.3,121.9 127.1,124.7 128.5,115.2" fill="#E9CFD3"/>
<circle cx="116" cy="126" r="1.0" fill="#E4BABF"/>
<circle cx="125" cy="127.5" r="1.0" fill="#E4BABF"/>
<circle cx="101" cy="175.8" r="1.8" fill="#E9CFD3"/>
<circle cx="109.5" cy="179.6" r="1.8" fill="#E9CFD3"/>
<circle cx="110.4" cy="187.1" r="1.8" fill="#E9CFD3"/>
<circle cx="126.4" cy="167.4" r="1.5" fill="#E9CFD3"/>
<polygon points="74,156 84,156 90,162 89,172 84,180 76,170" fill="#E9CFD3"/></g>
</g>
<polygon points="133.2,26.4 134.3,27.3 138.9,28.4 143.4,27.5 146.0,28.9 150.5,30.1 153.3,32.3 155.0,35.1 157.3,36.8 160.1,39.1 162.9,42.5 160.7,45.3 159.0,48.7 159.5,52.1 163.5,52.1 166.3,52.6 165.7,55.4 168.6,60.0 173.1,64.5 179.8,67.5 186.6,69.8 193.4,72.0 201.3,72.9 198.4,74.8 195.6,77.4 192.2,80.8 188.9,84.2 186.6,87.0 184.3,89.8 181.0,93.2 176.4,93.2 171.9,93.2 169.7,94.9 166.3,97.1 162.9,97.7 159.5,99.4 157.8,100.0 155.0,98.8 151.6,97.7 148.9,98.7 145.5,100.9 142.1,102.6 139.8,102.1 134.8,102.1 131.9,99.8 128.6,97.6 125.7,96.4 120.1,95.9 119.5,93.0 118.4,90.2 115.6,89.7 114.5,88.5 113.3,84.6 111.6,81.5 109.0,78.0 106.5,75.5 103.9,73.5 101.1,73.5 100.5,72.4 101.1,70.1 102.2,69.0 105.6,68.4 106.7,66.2 107.3,63.3 107.8,60.0 108.4,57.1 109.5,54.5 111.8,53.2 113.5,50.4 114.6,47.6 115.7,44.7 118.0,41.4 121.4,39.1 122.5,35.7 123.6,32.9 124.2,30.1 126.5,29.7 129.8,29.7 132.1,28.9" fill="none" stroke="#fff" stroke-opacity="0.5" stroke-width="3.4" stroke-linejoin="round"/>
<polygon points="115.6,89.7 118.4,90.2 119.5,93.0 120.1,95.9 125.7,96.4 128.6,97.6 131.9,99.8 134.8,102.1 139.8,102.1 142.1,102.6 145.5,100.9 148.9,98.7 151.6,97.7 155.0,98.8 157.8,100.0 158.4,101.1 156.7,103.3 154.5,106.7 153.9,110.1 153.9,115.0 154.0,125.8 154.3,132.5 158.3,136.4 155.5,139.2 153.2,140.9 149.8,142.6 148.7,145.4 147.0,148.8 145.9,152.2 144.2,155.6 142.5,157.9 141.9,157.3 136.9,153.3 132.4,150.0 130.1,145.4 122.6,141.5 116.8,138.5 111.1,135.3 106.0,133.0 106.0,129.5 106.6,125.0 108.6,121.0 111.5,117.5 113.3,114.5 112.5,110.0 111.6,107.7 109.4,103.2 107.7,99.8 107.7,96.4 110.5,93.6 112.8,91.4" fill="none" stroke="#fff" stroke-opacity="0.5" stroke-width="3.4" stroke-linejoin="round"/>
<polygon points="106.0,133.0 82.9,133.0 84.0,135.3 85.7,136.4 85.2,138.7 84.6,140.9 84.0,142.1 84.0,144.3 82.9,145.4 84.6,147.1 83.5,149.4 80.7,152.8 78.4,155.0 75.6,157.3 75.0,159.5 76.7,162.9 77.3,168.5 80.7,173.0 82.9,175.9 84.6,180.9 87.4,184.3 90.8,185.4 95.3,187.7 99.8,190.0 104.3,191.1 108.3,191.1 110.0,194.0 111.1,198.0 111.5,200.5 113.0,202.8 117.3,203.8 121.3,204.6 123.2,205.6 125.2,204.6 129.7,203.5 135.3,202.4 139.8,200.1 145.5,198.4 150.5,196.2 147.2,193.9 144.9,188.8 143.2,184.3 142.7,179.8 138.4,179.2 142.1,177.6 143.2,174.2 141.5,170.8 140.0,168.5 139.1,166.9 139.8,163.5 141.4,160.1 142.5,157.9 141.9,157.3 136.9,153.3 132.4,150.0 130.1,145.4 122.6,141.5 116.8,138.5 111.1,135.3" fill="none" stroke="#fff" stroke-opacity="0.5" stroke-width="3.4" stroke-linejoin="round"/>
<polygon points="133.2,26.4 134.3,27.3 138.9,28.4 143.4,27.5 146.0,28.9 150.5,30.1 153.3,32.3 155.0,35.1 157.3,36.8 160.1,39.1 162.9,42.5 160.7,45.3 159.0,48.7 159.5,52.1 163.5,52.1 166.3,52.6 165.7,55.4 168.6,60.0 173.1,64.5 179.8,67.5 186.6,69.8 193.4,72.0 201.3,72.9 198.4,74.8 195.6,77.4 192.2,80.8 188.9,84.2 186.6,87.0 184.3,89.8 181.0,93.2 176.4,93.2 171.9,93.2 169.7,94.9 166.3,97.1 162.9,97.7 159.5,99.4 157.8,100.0 155.0,98.8 151.6,97.7 148.9,98.7 145.5,100.9 142.1,102.6 139.8,102.1 134.8,102.1 131.9,99.8 128.6,97.6 125.7,96.4 120.1,95.9 119.5,93.0 118.4,90.2 115.6,89.7 114.5,88.5 113.3,84.6 111.6,81.5 109.0,78.0 106.5,75.5 103.9,73.5 101.1,73.5 100.5,72.4 101.1,70.1 102.2,69.0 105.6,68.4 106.7,66.2 107.3,63.3 107.8,60.0 108.4,57.1 109.5,54.5 111.8,53.2 113.5,50.4 114.6,47.6 115.7,44.7 118.0,41.4 121.4,39.1 122.5,35.7 123.6,32.9 124.2,30.1 126.5,29.7 129.8,29.7 132.1,28.9" fill="none" stroke="#2a2a2a" stroke-width="1.55" stroke-linejoin="round"/>
<polygon points="115.6,89.7 118.4,90.2 119.5,93.0 120.1,95.9 125.7,96.4 128.6,97.6 131.9,99.8 134.8,102.1 139.8,102.1 142.1,102.6 145.5,100.9 148.9,98.7 151.6,97.7 155.0,98.8 157.8,100.0 158.4,101.1 156.7,103.3 154.5,106.7 153.9,110.1 153.9,115.0 154.0,125.8 154.3,132.5 158.3,136.4 155.5,139.2 153.2,140.9 149.8,142.6 148.7,145.4 147.0,148.8 145.9,152.2 144.2,155.6 142.5,157.9 141.9,157.3 136.9,153.3 132.4,150.0 130.1,145.4 122.6,141.5 116.8,138.5 111.1,135.3 106.0,133.0 106.0,129.5 106.6,125.0 108.6,121.0 111.5,117.5 113.3,114.5 112.5,110.0 111.6,107.7 109.4,103.2 107.7,99.8 107.7,96.4 110.5,93.6 112.8,91.4" fill="none" stroke="#2a2a2a" stroke-width="1.55" stroke-linejoin="round"/>
<polygon points="106.0,133.0 82.9,133.0 84.0,135.3 85.7,136.4 85.2,138.7 84.6,140.9 84.0,142.1 84.0,144.3 82.9,145.4 84.6,147.1 83.5,149.4 80.7,152.8 78.4,155.0 75.6,157.3 75.0,159.5 76.7,162.9 77.3,168.5 80.7,173.0 82.9,175.9 84.6,180.9 87.4,184.3 90.8,185.4 95.3,187.7 99.8,190.0 104.3,191.1 108.3,191.1 110.0,194.0 111.1,198.0 111.5,200.5 113.0,202.8 117.3,203.8 121.3,204.6 123.2,205.6 125.2,204.6 129.7,203.5 135.3,202.4 139.8,200.1 145.5,198.4 150.5,196.2 147.2,193.9 144.9,188.8 143.2,184.3 142.7,179.8 138.4,179.2 142.1,177.6 143.2,174.2 141.5,170.8 140.0,168.5 139.1,166.9 139.8,163.5 141.4,160.1 142.5,157.9 141.9,157.3 136.9,153.3 132.4,150.0 130.1,145.4 122.6,141.5 116.8,138.5 111.1,135.3" fill="none" stroke="#2a2a2a" stroke-width="1.55" stroke-linejoin="round"/>
<ellipse cx="145.6" cy="161.3" rx="1.15" ry="2.5" fill="#000"/>
<ellipse cx="143.3" cy="168.2" rx="1.0" ry="2.1" fill="#000"/>
<ellipse cx="145.6" cy="178.8" rx="0.9" ry="1.5" fill="#000"/>
<ellipse cx="155.2" cy="139.3" rx="1.4" ry="0.9" fill="#000"/>
</g>
<g transform="matrix(0.988,0,0,1,146.9,207.5)">
<g clip-path="url(#land)">
<g filter="url(#bl)"><rect x="60" y="20" width="150" height="190" fill="#F3F2F2"/>
<polygon points="109,53.8 121,53.8 134.3,55.1 135.6,61.7 138.3,64.3 134.3,70.9 131.6,80.1 127.6,88 118.3,90.7 111.6,84.1 102.3,72.2 100,70 104,60 107.6,56" fill="#EAD4D7"/>
<ellipse cx="144.3" cy="56.4" rx="6" ry="2.6" fill="#EAD4D7"/>
<ellipse cx="145" cy="72.2" rx="2.6" ry="4" fill="#EAD4D7"/>
<polygon points="122.2,30.1 131.5,30.1 131.5,44.6 124.8,44.6 115.5,47.2 118,40" fill="#EAD4D7"/>
<ellipse cx="135.5" cy="32" rx="2.6" ry="2.0" fill="#EAD4D7"/>
<ellipse cx="143.5" cy="45.2" rx="4" ry="1.9" fill="#EAD4D7"/>
<ellipse cx="127.6" cy="62.4" rx="2.40" ry="2.40" fill="#E6C2C6"/>
<ellipse cx="127.6" cy="62.4" rx="2.03" ry="2.03" fill="#E0AFB5"/>
<ellipse cx="127.6" cy="62.4" rx="1.66" ry="1.66" fill="#DB9DA4"/>
<ellipse cx="127.6" cy="62.4" rx="1.28" ry="1.28" fill="#D58A93"/>
<ellipse cx="121.7" cy="69.6" rx="2.20" ry="2.20" fill="#E5BEC3"/>
<ellipse cx="121.7" cy="69.6" rx="1.52" ry="1.52" fill="#DEA8AF"/>
<circle cx="115.7" cy="72.9" r="1.9" fill="#E1B2B8"/>
<ellipse cx="142.3" cy="76.2" rx="1.90" ry="1.90" fill="#E6C0C4"/>
<ellipse cx="142.3" cy="76.2" rx="1.31" ry="1.31" fill="#DFACB2"/>
<circle cx="110" cy="58.6" r="1.8" fill="#E2B6BB"/>
<circle cx="131" cy="66" r="1.4" fill="#E3B9BE"/>
<circle cx="116.9" cy="62.4" r="2.3" fill="#F3F1F1"/>
<ellipse cx="123.5" cy="73.6" rx="2.8" ry="2.2" fill="#F3F1F1"/>
<circle cx="133" cy="58" r="1.3" fill="#F3F1F1"/>
<polygon points="115.6,89.7 118.4,90.2 119.5,93 120.1,95.9 125.7,96.4 128.6,97.6 131.9,99.8 134.8,102.1 139.8,102.1 142.1,102.6 145.5,100.9 148.9,98.7 151.6,97.7 155,98.8 157.8,100 158.4,101.1 156.7,103.3 154.5,106.7 153.9,110.1 153.9,115 154,125.8 154.3,132.5 158.3,136.4 155.5,139.2 153.2,140.9 149.8,142.6 148.7,145.4 147,148.8 145.9,152.2 144.2,155.6 142.5,157.9 141.9,157.3 136.9,153.3 132.4,150 130.1,145.4 122.6,141.5 116.8,138.5 111.1,135.3 106,133 106,129.5 106.6,125 108.6,121 111.5,117.5 113.3,114.5 112.5,110 111.6,107.7 109.4,103.2 107.7,99.8 107.7,96.4 110.5,93.6 112.8,91.4" fill="#EAD4D7"/>
<ellipse cx="119.3" cy="107.2" rx="5" ry="4.8" fill="#F3F0F1"/>
<ellipse cx="122" cy="128.8" rx="9.5" ry="2.8" fill="#E2B6BB"/>
<circle cx="126.8" cy="126" r="1.5" fill="#F3F0F1"/>
<circle cx="145.6" cy="129.8" r="2.2" fill="#F3F0F1"/>
<polygon points="131.5,140 150.3,138.3 152,141 144,156 140,156 134,151" fill="#F1E8E8"/>
<circle cx="133.4" cy="111" r="1.8" fill="#E6C0C4"/>
<circle cx="139" cy="123.2" r="1.8" fill="#E6C0C4"/>
<circle cx="141.9" cy="139.2" r="1.8" fill="#E6C0C4"/>
<circle cx="152.2" cy="102.5" r="2.0" fill="#E6C0C4"/>
<polygon points="106,133 82.9,133 84,135.3 85.7,136.4 85.2,138.7 84.6,140.9 84,142.1 84,144.3 82.9,145.4 84.6,147.1 83.5,149.4 80.7,152.8 78.4,155 75.6,157.3 75,159.5 76.7,162.9 77.3,168.5 80.7,173 82.9,175.9 84.6,180.9 87.4,184.3 90.8,185.4 95.3,187.7 99.8,190 104.3,191.1 108.3,191.1 110,194 111.1,198 111.5,200.5 113,202.8 117.3,203.8 121.3,204.6 123.2,205.6 125.2,204.6 129.7,203.5 135.3,202.4 139.8,200.1 145.5,198.4 150.5,196.2 147.2,193.9 144.9,188.8 143.2,184.3 142.7,179.8 138.4,179.2 142.1,177.6 143.2,174.2 141.5,170.8 140,168.5 139.1,166.9 139.8,163.5 141.4,160.1 142.5,157.9 141.9,157.3 136.9,153.3 132.4,150 130.1,145.4 122.6,141.5 116.8,138.5 111.1,135.3" fill="#EAD4D7"/>
<ellipse cx="103" cy="144.5" rx="5.5" ry="9" fill="#F3F0F1"/>
<ellipse cx="92" cy="135.5" rx="4" ry="2" fill="#F3F0F1"/>
<polygon points="117,142 128,146 140,155 144,165 144,178 135,180 128,170 125,160 119,152" fill="#F3F0F1"/>
<circle cx="103" cy="160" r="2.8" fill="#F3F1F1"/>
<circle cx="100.8" cy="169" r="3.4" fill="#F3F1F1"/>
<ellipse cx="124.5" cy="172.8" rx="3.8" ry="8" fill="#F3F1F1"/>
<circle cx="102.5" cy="186" r="2.5" fill="#EAECF0"/>
<circle cx="115.7" cy="197.6" r="2.0" fill="#F3F1F1"/>
<ellipse cx="78.5" cy="161" rx="2" ry="4" fill="#E2B6BB"/>
<circle cx="124" cy="190" r="1.8" fill="#E6C0C4"/>
<circle cx="130" cy="196" r="1.8" fill="#E6C0C4"/>
<circle cx="122" cy="199" r="1.6" fill="#E6C0C4"/>
<circle cx="137" cy="195" r="1.4" fill="#E6C0C4"/></g>
</g>
<polygon points="133.2,26.4 134.3,27.3 138.9,28.4 143.4,27.5 146.0,28.9 150.5,30.1 153.3,32.3 155.0,35.1 157.3,36.8 160.1,39.1 162.9,42.5 160.7,45.3 159.0,48.7 159.5,52.1 163.5,52.1 166.3,52.6 165.7,55.4 168.6,60.0 173.1,64.5 179.8,67.5 186.6,69.8 193.4,72.0 201.3,72.9 198.4,74.8 195.6,77.4 192.2,80.8 188.9,84.2 186.6,87.0 184.3,89.8 181.0,93.2 176.4,93.2 171.9,93.2 169.7,94.9 166.3,97.1 162.9,97.7 159.5,99.4 157.8,100.0 155.0,98.8 151.6,97.7 148.9,98.7 145.5,100.9 142.1,102.6 139.8,102.1 134.8,102.1 131.9,99.8 128.6,97.6 125.7,96.4 120.1,95.9 119.5,93.0 118.4,90.2 115.6,89.7 114.5,88.5 113.3,84.6 111.6,81.5 109.0,78.0 106.5,75.5 103.9,73.5 101.1,73.5 100.5,72.4 101.1,70.1 102.2,69.0 105.6,68.4 106.7,66.2 107.3,63.3 107.8,60.0 108.4,57.1 109.5,54.5 111.8,53.2 113.5,50.4 114.6,47.6 115.7,44.7 118.0,41.4 121.4,39.1 122.5,35.7 123.6,32.9 124.2,30.1 126.5,29.7 129.8,29.7 132.1,28.9" fill="none" stroke="#fff" stroke-opacity="0.5" stroke-width="3.4" stroke-linejoin="round"/>
<polygon points="115.6,89.7 118.4,90.2 119.5,93.0 120.1,95.9 125.7,96.4 128.6,97.6 131.9,99.8 134.8,102.1 139.8,102.1 142.1,102.6 145.5,100.9 148.9,98.7 151.6,97.7 155.0,98.8 157.8,100.0 158.4,101.1 156.7,103.3 154.5,106.7 153.9,110.1 153.9,115.0 154.0,125.8 154.3,132.5 158.3,136.4 155.5,139.2 153.2,140.9 149.8,142.6 148.7,145.4 147.0,148.8 145.9,152.2 144.2,155.6 142.5,157.9 141.9,157.3 136.9,153.3 132.4,150.0 130.1,145.4 122.6,141.5 116.8,138.5 111.1,135.3 106.0,133.0 106.0,129.5 106.6,125.0 108.6,121.0 111.5,117.5 113.3,114.5 112.5,110.0 111.6,107.7 109.4,103.2 107.7,99.8 107.7,96.4 110.5,93.6 112.8,91.4" fill="none" stroke="#fff" stroke-opacity="0.5" stroke-width="3.4" stroke-linejoin="round"/>
<polygon points="106.0,133.0 82.9,133.0 84.0,135.3 85.7,136.4 85.2,138.7 84.6,140.9 84.0,142.1 84.0,144.3 82.9,145.4 84.6,147.1 83.5,149.4 80.7,152.8 78.4,155.0 75.6,157.3 75.0,159.5 76.7,162.9 77.3,168.5 80.7,173.0 82.9,175.9 84.6,180.9 87.4,184.3 90.8,185.4 95.3,187.7 99.8,190.0 104.3,191.1 108.3,191.1 110.0,194.0 111.1,198.0 111.5,200.5 113.0,202.8 117.3,203.8 121.3,204.6 123.2,205.6 125.2,204.6 129.7,203.5 135.3,202.4 139.8,200.1 145.5,198.4 150.5,196.2 147.2,193.9 144.9,188.8 143.2,184.3 142.7,179.8 138.4,179.2 142.1,177.6 143.2,174.2 141.5,170.8 140.0,168.5 139.1,166.9 139.8,163.5 141.4,160.1 142.5,157.9 141.9,157.3 136.9,153.3 132.4,150.0 130.1,145.4 122.6,141.5 116.8,138.5 111.1,135.3" fill="none" stroke="#fff" stroke-opacity="0.5" stroke-width="3.4" stroke-linejoin="round"/>
<polygon points="133.2,26.4 134.3,27.3 138.9,28.4 143.4,27.5 146.0,28.9 150.5,30.1 153.3,32.3 155.0,35.1 157.3,36.8 160.1,39.1 162.9,42.5 160.7,45.3 159.0,48.7 159.5,52.1 163.5,52.1 166.3,52.6 165.7,55.4 168.6,60.0 173.1,64.5 179.8,67.5 186.6,69.8 193.4,72.0 201.3,72.9 198.4,74.8 195.6,77.4 192.2,80.8 188.9,84.2 186.6,87.0 184.3,89.8 181.0,93.2 176.4,93.2 171.9,93.2 169.7,94.9 166.3,97.1 162.9,97.7 159.5,99.4 157.8,100.0 155.0,98.8 151.6,97.7 148.9,98.7 145.5,100.9 142.1,102.6 139.8,102.1 134.8,102.1 131.9,99.8 128.6,97.6 125.7,96.4 120.1,95.9 119.5,93.0 118.4,90.2 115.6,89.7 114.5,88.5 113.3,84.6 111.6,81.5 109.0,78.0 106.5,75.5 103.9,73.5 101.1,73.5 100.5,72.4 101.1,70.1 102.2,69.0 105.6,68.4 106.7,66.2 107.3,63.3 107.8,60.0 108.4,57.1 109.5,54.5 111.8,53.2 113.5,50.4 114.6,47.6 115.7,44.7 118.0,41.4 121.4,39.1 122.5,35.7 123.6,32.9 124.2,30.1 126.5,29.7 129.8,29.7 132.1,28.9" fill="none" stroke="#2a2a2a" stroke-width="1.55" stroke-linejoin="round"/>
<polygon points="115.6,89.7 118.4,90.2 119.5,93.0 120.1,95.9 125.7,96.4 128.6,97.6 131.9,99.8 134.8,102.1 139.8,102.1 142.1,102.6 145.5,100.9 148.9,98.7 151.6,97.7 155.0,98.8 157.8,100.0 158.4,101.1 156.7,103.3 154.5,106.7 153.9,110.1 153.9,115.0 154.0,125.8 154.3,132.5 158.3,136.4 155.5,139.2 153.2,140.9 149.8,142.6 148.7,145.4 147.0,148.8 145.9,152.2 144.2,155.6 142.5,157.9 141.9,157.3 136.9,153.3 132.4,150.0 130.1,145.4 122.6,141.5 116.8,138.5 111.1,135.3 106.0,133.0 106.0,129.5 106.6,125.0 108.6,121.0 111.5,117.5 113.3,114.5 112.5,110.0 111.6,107.7 109.4,103.2 107.7,99.8 107.7,96.4 110.5,93.6 112.8,91.4" fill="none" stroke="#2a2a2a" stroke-width="1.55" stroke-linejoin="round"/>
<polygon points="106.0,133.0 82.9,133.0 84.0,135.3 85.7,136.4 85.2,138.7 84.6,140.9 84.0,142.1 84.0,144.3 82.9,145.4 84.6,147.1 83.5,149.4 80.7,152.8 78.4,155.0 75.6,157.3 75.0,159.5 76.7,162.9 77.3,168.5 80.7,173.0 82.9,175.9 84.6,180.9 87.4,184.3 90.8,185.4 95.3,187.7 99.8,190.0 104.3,191.1 108.3,191.1 110.0,194.0 111.1,198.0 111.5,200.5 113.0,202.8 117.3,203.8 121.3,204.6 123.2,205.6 125.2,204.6 129.7,203.5 135.3,202.4 139.8,200.1 145.5,198.4 150.5,196.2 147.2,193.9 144.9,188.8 143.2,184.3 142.7,179.8 138.4,179.2 142.1,177.6 143.2,174.2 141.5,170.8 140.0,168.5 139.1,166.9 139.8,163.5 141.4,160.1 142.5,157.9 141.9,157.3 136.9,153.3 132.4,150.0 130.1,145.4 122.6,141.5 116.8,138.5 111.1,135.3" fill="none" stroke="#2a2a2a" stroke-width="1.55" stroke-linejoin="round"/>
<ellipse cx="145.6" cy="161.3" rx="1.15" ry="2.5" fill="#000"/>
<ellipse cx="143.3" cy="168.2" rx="1.0" ry="2.1" fill="#000"/>
<ellipse cx="145.6" cy="178.8" rx="0.9" ry="1.5" fill="#000"/>
<ellipse cx="155.2" cy="139.3" rx="1.4" ry="0.9" fill="#000"/>
</g>
<g transform="matrix(0.9913,0,0,1,292.05,207.5)">
<g clip-path="url(#land)">
<g filter="url(#bl)"><rect x="60" y="20" width="150" height="190" fill="#F3F2F2"/>
<polygon points="109,53.8 121,53.8 134.3,55.1 135.6,61.7 138.3,64.3 134.3,70.9 131.6,80.1 127.6,88 118.3,90.7 111.6,84.1 102.3,72.2 100,70 104,60 107.6,56" fill="#E9CFD3"/>
<ellipse cx="144.3" cy="56.4" rx="6" ry="2.6" fill="#E9CFD3"/>
<ellipse cx="145" cy="72.2" rx="2.6" ry="4" fill="#E9CFD3"/>
<polygon points="122.2,30.1 131.5,30.1 131.5,44.6 124.8,44.6 115.5,47.2 118,40" fill="#E9CFD3"/>
<ellipse cx="135.5" cy="32" rx="2.6" ry="2.0" fill="#E9CFD3"/>
<ellipse cx="143.5" cy="45.2" rx="4" ry="1.9" fill="#E9CFD3"/>
<ellipse cx="127.6" cy="62.4" rx="2.40" ry="2.40" fill="#E5BEC3"/>
<ellipse cx="127.6" cy="62.4" rx="2.10" ry="2.10" fill="#DFADB3"/>
<ellipse cx="127.6" cy="62.4" rx="1.80" ry="1.80" fill="#DB9CA3"/>
<ellipse cx="127.6" cy="62.4" rx="1.51" ry="1.51" fill="#D68B93"/>
<ellipse cx="127.6" cy="62.4" rx="1.21" ry="1.21" fill="#D07984"/>
<ellipse cx="121.7" cy="69.6" rx="2.20" ry="2.20" fill="#E5BEC3"/>
<ellipse cx="121.7" cy="69.6" rx="1.75" ry="1.75" fill="#E0ADB3"/>
<ellipse cx="121.7" cy="69.6" rx="1.29" ry="1.29" fill="#DB9DA4"/>
<circle cx="115.7" cy="72.9" r="1.9" fill="#DEA8AF"/>
<ellipse cx="142.3" cy="76.2" rx="1.90" ry="1.90" fill="#E6C0C4"/>
<ellipse cx="142.3" cy="76.2" rx="1.51" ry="1.51" fill="#E0B0B6"/>
<ellipse cx="142.3" cy="76.2" rx="1.11" ry="1.11" fill="#DCA1A7"/>
<circle cx="110" cy="58.6" r="1.8" fill="#DFACB2"/>
<circle cx="131" cy="66" r="1.4" fill="#E0B0B6"/>
<circle cx="116.9" cy="62.4" r="2.3" fill="#F3F1F1"/>
<ellipse cx="123.5" cy="73.6" rx="2.8" ry="2.2" fill="#F3F1F1"/>
<circle cx="133" cy="58" r="1.3" fill="#F3F1F1"/>
<polygon points="122.6,30.1 135,28 148,30 157.2,34.1 157.2,42 147.9,47.2 134.6,44.6 122.6,44.6" fill="#E9CFD3"/>
<ellipse cx="134.6" cy="38.7" rx="3.8" ry="3.0" fill="#F3F1F1"/>
<circle cx="151" cy="39" r="2.4" fill="#F3F1F1"/>
<ellipse cx="140.6" cy="56.4" rx="11" ry="2.8" fill="#E9CFD3"/>
<polygon points="115.6,89.7 118.4,90.2 119.5,93 120.1,95.9 125.7,96.4 128.6,97.6 131.9,99.8 134.8,102.1 139.8,102.1 142.1,102.6 145.5,100.9 148.9,98.7 151.6,97.7 155,98.8 157.8,100 158.4,101.1 156.7,103.3 154.5,106.7 153.9,110.1 153.9,115 154,125.8 154.3,132.5 158.3,136.4 155.5,139.2 153.2,140.9 149.8,142.6 148.7,145.4 147,148.8 145.9,152.2 144.2,155.6 142.5,157.9 141.9,157.3 136.9,153.3 132.4,150 130.1,145.4 122.6,141.5 116.8,138.5 111.1,135.3 106,133 106,129.5 106.6,125 108.6,121 111.5,117.5 113.3,114.5 112.5,110 111.6,107.7 109.4,103.2 107.7,99.8 107.7,96.4 110.5,93.6 112.8,91.4" fill="#E9CFD3"/>
<ellipse cx="119.3" cy="107.2" rx="5" ry="4.8" fill="#F3F0F1"/>
<ellipse cx="122" cy="128.8" rx="9.5" ry="2.8" fill="#DFACB2"/>
<circle cx="126.8" cy="126" r="1.5" fill="#F3F0F1"/>
<circle cx="145.6" cy="129.8" r="2.2" fill="#F3F0F1"/>
<polygon points="131.5,140 150.3,138.3 152,141 144,156 140,156 134,151" fill="#F0E6E7"/>
<circle cx="133.4" cy="111" r="1.8" fill="#E3B8BD"/>
<circle cx="139" cy="123.2" r="1.8" fill="#E3B8BD"/>
<circle cx="141.9" cy="139.2" r="1.8" fill="#E3B8BD"/>
<circle cx="152.2" cy="102.5" r="2.0" fill="#E3B8BD"/>
<polygon points="106,133 82.9,133 84,135.3 85.7,136.4 85.2,138.7 84.6,140.9 84,142.1 84,144.3 82.9,145.4 84.6,147.1 83.5,149.4 80.7,152.8 78.4,155 75.6,157.3 75,159.5 76.7,162.9 77.3,168.5 80.7,173 82.9,175.9 84.6,180.9 87.4,184.3 90.8,185.4 95.3,187.7 99.8,190 104.3,191.1 108.3,191.1 110,194 111.1,198 111.5,200.5 113,202.8 117.3,203.8 121.3,204.6 123.2,205.6 125.2,204.6 129.7,203.5 135.3,202.4 139.8,200.1 145.5,198.4 150.5,196.2 147.2,193.9 144.9,188.8 143.2,184.3 142.7,179.8 138.4,179.2 142.1,177.6 143.2,174.2 141.5,170.8 140,168.5 139.1,166.9 139.8,163.5 141.4,160.1 142.5,157.9 141.9,157.3 136.9,153.3 132.4,150 130.1,145.4 122.6,141.5 116.8,138.5 111.1,135.3" fill="#E9CFD3"/>
<ellipse cx="98.5" cy="145" rx="3.8" ry="7.5" fill="#F3F0F1"/>
<ellipse cx="92" cy="135.5" rx="4" ry="2" fill="#F3F0F1"/>
<polygon points="118,145 124,146 134,156 141,166 141,175 136,174 130,162 122,153" fill="#F3F0F1"/>
<circle cx="98.2" cy="160.8" r="2.2" fill="#F3F1F1"/>
<circle cx="93.7" cy="169.8" r="3.0" fill="#F3F1F1"/>
<circle cx="117.2" cy="168.3" r="3.0" fill="#F3F1F1"/>
<circle cx="118" cy="178" r="2.3" fill="#F3F1F1"/>
<ellipse cx="130.9" cy="172.8" rx="3.5" ry="2.5" fill="#F3F1F1"/>
<circle cx="101.3" cy="186.6" r="3.0" fill="#EAECF0"/>
<circle cx="115.7" cy="199.4" r="1.5" fill="#F3F1F1"/>
<ellipse cx="78.5" cy="161" rx="2" ry="4" fill="#DFACB2"/>
<circle cx="124" cy="190" r="1.8" fill="#E3B8BD"/>
<circle cx="130" cy="196" r="1.8" fill="#E3B8BD"/>
<circle cx="122" cy="199" r="1.6" fill="#E3B8BD"/>
<circle cx="137" cy="195" r="1.4" fill="#E3B8BD"/>
<polygon points="111,123 125,122 133,118 140,120 141,133 130,136 118,136 111,132" fill="#E0AFB5"/>
<ellipse cx="120.5" cy="127" rx="2.50" ry="2.50" fill="#DA9AA1"/>
<ellipse cx="120.5" cy="127" rx="1.72" ry="1.72" fill="#D4858E"/>
<ellipse cx="126.1" cy="129.8" rx="2.20" ry="2.20" fill="#DA9AA1"/>
<ellipse cx="126.1" cy="129.8" rx="1.52" ry="1.52" fill="#D4858E"/>
<circle cx="133.6" cy="111" r="2.2" fill="#E2B6BB"/>
<circle cx="139.3" cy="116.6" r="1.6" fill="#E2B6BB"/>
<circle cx="141.1" cy="138.3" r="1.8" fill="#E2B6BB"/>
<circle cx="117.6" cy="105.4" r="3" fill="#F3F0F1"/>
<circle cx="120.5" cy="111" r="1.8" fill="#F3F0F1"/>
<circle cx="144.9" cy="129.8" r="2.2" fill="#F3F0F1"/>
<circle cx="126.1" cy="126" r="1.5" fill="#F3F0F1"/>
<polygon points="78,158 90,159 91,168 86,171 79,168" fill="#E2B6BB"/>
<polygon points="118.6,186 127,185 135,190 136,199 128,202 119,200" fill="#E2B6BB"/>
<circle cx="130.9" cy="183.6" r="1.6" fill="#E4BABF"/>
<circle cx="110.1" cy="180.5" r="1.8" fill="#E4BABF"/>
<circle cx="131.7" cy="183.4" r="1.8" fill="#E4BABF"/></g>
</g>
<polygon points="133.2,26.4 134.3,27.3 138.9,28.4 143.4,27.5 146.0,28.9 150.5,30.1 153.3,32.3 155.0,35.1 157.3,36.8 160.1,39.1 162.9,42.5 160.7,45.3 159.0,48.7 159.5,52.1 163.5,52.1 166.3,52.6 165.7,55.4 168.6,60.0 173.1,64.5 179.8,67.5 186.6,69.8 193.4,72.0 201.3,72.9 198.4,74.8 195.6,77.4 192.2,80.8 188.9,84.2 186.6,87.0 184.3,89.8 181.0,93.2 176.4,93.2 171.9,93.2 169.7,94.9 166.3,97.1 162.9,97.7 159.5,99.4 157.8,100.0 155.0,98.8 151.6,97.7 148.9,98.7 145.5,100.9 142.1,102.6 139.8,102.1 134.8,102.1 131.9,99.8 128.6,97.6 125.7,96.4 120.1,95.9 119.5,93.0 118.4,90.2 115.6,89.7 114.5,88.5 113.3,84.6 111.6,81.5 109.0,78.0 106.5,75.5 103.9,73.5 101.1,73.5 100.5,72.4 101.1,70.1 102.2,69.0 105.6,68.4 106.7,66.2 107.3,63.3 107.8,60.0 108.4,57.1 109.5,54.5 111.8,53.2 113.5,50.4 114.6,47.6 115.7,44.7 118.0,41.4 121.4,39.1 122.5,35.7 123.6,32.9 124.2,30.1 126.5,29.7 129.8,29.7 132.1,28.9" fill="none" stroke="#fff" stroke-opacity="0.5" stroke-width="3.4" stroke-linejoin="round"/>
<polygon points="115.6,89.7 118.4,90.2 119.5,93.0 120.1,95.9 125.7,96.4 128.6,97.6 131.9,99.8 134.8,102.1 139.8,102.1 142.1,102.6 145.5,100.9 148.9,98.7 151.6,97.7 155.0,98.8 157.8,100.0 158.4,101.1 156.7,103.3 154.5,106.7 153.9,110.1 153.9,115.0 154.0,125.8 154.3,132.5 158.3,136.4 155.5,139.2 153.2,140.9 149.8,142.6 148.7,145.4 147.0,148.8 145.9,152.2 144.2,155.6 142.5,157.9 141.9,157.3 136.9,153.3 132.4,150.0 130.1,145.4 122.6,141.5 116.8,138.5 111.1,135.3 106.0,133.0 106.0,129.5 106.6,125.0 108.6,121.0 111.5,117.5 113.3,114.5 112.5,110.0 111.6,107.7 109.4,103.2 107.7,99.8 107.7,96.4 110.5,93.6 112.8,91.4" fill="none" stroke="#fff" stroke-opacity="0.5" stroke-width="3.4" stroke-linejoin="round"/>
<polygon points="106.0,133.0 82.9,133.0 84.0,135.3 85.7,136.4 85.2,138.7 84.6,140.9 84.0,142.1 84.0,144.3 82.9,145.4 84.6,147.1 83.5,149.4 80.7,152.8 78.4,155.0 75.6,157.3 75.0,159.5 76.7,162.9 77.3,168.5 80.7,173.0 82.9,175.9 84.6,180.9 87.4,184.3 90.8,185.4 95.3,187.7 99.8,190.0 104.3,191.1 108.3,191.1 110.0,194.0 111.1,198.0 111.5,200.5 113.0,202.8 117.3,203.8 121.3,204.6 123.2,205.6 125.2,204.6 129.7,203.5 135.3,202.4 139.8,200.1 145.5,198.4 150.5,196.2 147.2,193.9 144.9,188.8 143.2,184.3 142.7,179.8 138.4,179.2 142.1,177.6 143.2,174.2 141.5,170.8 140.0,168.5 139.1,166.9 139.8,163.5 141.4,160.1 142.5,157.9 141.9,157.3 136.9,153.3 132.4,150.0 130.1,145.4 122.6,141.5 116.8,138.5 111.1,135.3" fill="none" stroke="#fff" stroke-opacity="0.5" stroke-width="3.4" stroke-linejoin="round"/>
<polygon points="133.2,26.4 134.3,27.3 138.9,28.4 143.4,27.5 146.0,28.9 150.5,30.1 153.3,32.3 155.0,35.1 157.3,36.8 160.1,39.1 162.9,42.5 160.7,45.3 159.0,48.7 159.5,52.1 163.5,52.1 166.3,52.6 165.7,55.4 168.6,60.0 173.1,64.5 179.8,67.5 186.6,69.8 193.4,72.0 201.3,72.9 198.4,74.8 195.6,77.4 192.2,80.8 188.9,84.2 186.6,87.0 184.3,89.8 181.0,93.2 176.4,93.2 171.9,93.2 169.7,94.9 166.3,97.1 162.9,97.7 159.5,99.4 157.8,100.0 155.0,98.8 151.6,97.7 148.9,98.7 145.5,100.9 142.1,102.6 139.8,102.1 134.8,102.1 131.9,99.8 128.6,97.6 125.7,96.4 120.1,95.9 119.5,93.0 118.4,90.2 115.6,89.7 114.5,88.5 113.3,84.6 111.6,81.5 109.0,78.0 106.5,75.5 103.9,73.5 101.1,73.5 100.5,72.4 101.1,70.1 102.2,69.0 105.6,68.4 106.7,66.2 107.3,63.3 107.8,60.0 108.4,57.1 109.5,54.5 111.8,53.2 113.5,50.4 114.6,47.6 115.7,44.7 118.0,41.4 121.4,39.1 122.5,35.7 123.6,32.9 124.2,30.1 126.5,29.7 129.8,29.7 132.1,28.9" fill="none" stroke="#2a2a2a" stroke-width="1.55" stroke-linejoin="round"/>
<polygon points="115.6,89.7 118.4,90.2 119.5,93.0 120.1,95.9 125.7,96.4 128.6,97.6 131.9,99.8 134.8,102.1 139.8,102.1 142.1,102.6 145.5,100.9 148.9,98.7 151.6,97.7 155.0,98.8 157.8,100.0 158.4,101.1 156.7,103.3 154.5,106.7 153.9,110.1 153.9,115.0 154.0,125.8 154.3,132.5 158.3,136.4 155.5,139.2 153.2,140.9 149.8,142.6 148.7,145.4 147.0,148.8 145.9,152.2 144.2,155.6 142.5,157.9 141.9,157.3 136.9,153.3 132.4,150.0 130.1,145.4 122.6,141.5 116.8,138.5 111.1,135.3 106.0,133.0 106.0,129.5 106.6,125.0 108.6,121.0 111.5,117.5 113.3,114.5 112.5,110.0 111.6,107.7 109.4,103.2 107.7,99.8 107.7,96.4 110.5,93.6 112.8,91.4" fill="none" stroke="#2a2a2a" stroke-width="1.55" stroke-linejoin="round"/>
<polygon points="106.0,133.0 82.9,133.0 84.0,135.3 85.7,136.4 85.2,138.7 84.6,140.9 84.0,142.1 84.0,144.3 82.9,145.4 84.6,147.1 83.5,149.4 80.7,152.8 78.4,155.0 75.6,157.3 75.0,159.5 76.7,162.9 77.3,168.5 80.7,173.0 82.9,175.9 84.6,180.9 87.4,184.3 90.8,185.4 95.3,187.7 99.8,190.0 104.3,191.1 108.3,191.1 110.0,194.0 111.1,198.0 111.5,200.5 113.0,202.8 117.3,203.8 121.3,204.6 123.2,205.6 125.2,204.6 129.7,203.5 135.3,202.4 139.8,200.1 145.5,198.4 150.5,196.2 147.2,193.9 144.9,188.8 143.2,184.3 142.7,179.8 138.4,179.2 142.1,177.6 143.2,174.2 141.5,170.8 140.0,168.5 139.1,166.9 139.8,163.5 141.4,160.1 142.5,157.9 141.9,157.3 136.9,153.3 132.4,150.0 130.1,145.4 122.6,141.5 116.8,138.5 111.1,135.3" fill="none" stroke="#2a2a2a" stroke-width="1.55" stroke-linejoin="round"/>
<ellipse cx="145.6" cy="161.3" rx="1.15" ry="2.5" fill="#000"/>
<ellipse cx="143.3" cy="168.2" rx="1.0" ry="2.1" fill="#000"/>
<ellipse cx="145.6" cy="178.8" rx="0.9" ry="1.5" fill="#000"/>
<ellipse cx="155.2" cy="139.3" rx="1.4" ry="0.9" fill="#000"/>
</g>
<g transform="matrix(1.0,0,0,1,0.0,416.3)">
<g clip-path="url(#land)">
<g filter="url(#bl)"><rect x="60" y="20" width="150" height="190" fill="#F3F2F2"/>
<polygon points="101.4,70.9 107,69.7 111.5,69.7 116,67.5 119.4,65.2 122.8,60.7 126.2,58.4 129.6,56.2 131.8,55.6 132.4,57.3 130.1,60.7 131.8,64.1 133.5,66.3 130.7,67.5 127.9,64.1 125.6,65.2 123.9,68.6 120,72 117.2,75.4 114.9,77.6 110.4,77.6 107,75.4 103.6,73.1" fill="#E9CFD3"/>
<ellipse cx="110.8" cy="58.5" rx="2.2" ry="3.5" fill="#E9CFD3"/>
<circle cx="127.9" cy="61.3" r="1.3" fill="#E0AFB5"/>
<circle cx="122.2" cy="69.2" r="1.1" fill="#E5BDC2"/>
<circle cx="134.1" cy="30.8" r="2.0" fill="#E9CFD3"/>
<ellipse cx="127.9" cy="41.5" rx="1.6" ry="0.9" fill="#E9CFD3"/>
<circle cx="144.8" cy="44.4" r="1.4" fill="#E9CFD3"/>
<circle cx="140.3" cy="56.2" r="1.5" fill="#E9CFD3"/>
<circle cx="144.2" cy="56.8" r="1.0" fill="#E9CFD3"/>
<ellipse cx="130.7" cy="74.2" rx="2.6" ry="2.2" fill="#E9CFD3"/>
<circle cx="142" cy="75.4" r="1.9" fill="#E9CFD3"/>
<circle cx="146.5" cy="71.4" r="1.5" fill="#E9CFD3"/>
<circle cx="134.1" cy="80.4" r="1.0" fill="#E9CFD3"/>
<circle cx="123.4" cy="87.2" r="2.4" fill="#E9CFD3"/>
<circle cx="126.2" cy="32" r="1.0" fill="#E9CFD3"/>
<circle cx="154.4" cy="36.5" r="1.0" fill="#E9CFD3"/>
<circle cx="151.8" cy="103" r="2.2" fill="#E9CFD3"/>
<circle cx="149.9" cy="121.8" r="2.0" fill="#E9CFD3"/>
<polygon points="130.2,107.7 138.6,109.6 141.4,118.1 139.5,129.4 148.9,135 149.9,139.7 141.4,141.6 126.4,138.8 115.1,135.9 107.6,132.2 107.6,121.8 118.9,120.9 128.3,123.7 129.2,116.2" fill="#E9CFD3"/>
<circle cx="116" cy="126" r="1.0" fill="#E4BABF"/>
<circle cx="125" cy="127.5" r="1.0" fill="#E4BABF"/>
<polygon points="75,157 85,158 90,163 89,171 83,177 77,168" fill="#E9CFD3"/>
<polygon points="117.3,185.4 121.8,183.2 128.6,180.9 132.5,179.8 135.3,182.1 137.6,187.7 141,191.1 144.3,193.3 144.9,196.7 139.8,199 133.1,201.2 126.3,202.9 122.9,202.4 120.7,196.7 117.8,191.1" fill="#E9CFD3"/>
<polygon points="126,105 140,107 150,113 152,122 150,134 152,141 128,140 108,133 108,122 118,118 126,114" fill="#E9CFD3"/>
<circle cx="124.5" cy="125.6" r="2.8" fill="#F3F2F2"/>
<polygon points="142,124 152,124 152,136 142,134" fill="#F3F2F2"/>
<circle cx="126.4" cy="101.2" r="1.8" fill="#E9CFD3"/>
<circle cx="113.2" cy="94.6" r="1.5" fill="#E9CFD3"/>
<circle cx="101" cy="175.4" r="2" fill="#E9CFD3"/>
<circle cx="126.4" cy="167" r="1.6" fill="#E9CFD3"/>
<ellipse cx="114" cy="141.5" rx="5" ry="3" fill="#E9CFD3"/>
<circle cx="113.1" cy="69.6" r="1.5" fill="#F3F2F2"/>
<circle cx="121.3" cy="86.1" r="2.6" fill="#E9CFD3"/>
<circle cx="130.7" cy="73.7" r="2.2" fill="#E9CFD3"/>
<polygon points="74,155 86,156 91,163 90,173 84,179 76,170" fill="#E9CFD3"/>
<polygon points="107,178 118,180 128,178 136,179 142,190 145,198 136,201 124,203 113,202 110,192" fill="#E9CFD3"/></g>
</g>
<polygon points="133.2,26.4 134.3,27.3 138.9,28.4 143.4,27.5 146.0,28.9 150.5,30.1 153.3,32.3 155.0,35.1 157.3,36.8 160.1,39.1 162.9,42.5 160.7,45.3 159.0,48.7 159.5,52.1 163.5,52.1 166.3,52.6 165.7,55.4 168.6,60.0 173.1,64.5 179.8,67.5 186.6,69.8 193.4,72.0 201.3,72.9 198.4,74.8 195.6,77.4 192.2,80.8 188.9,84.2 186.6,87.0 184.3,89.8 181.0,93.2 176.4,93.2 171.9,93.2 169.7,94.9 166.3,97.1 162.9,97.7 159.5,99.4 157.8,100.0 155.0,98.8 151.6,97.7 148.9,98.7 145.5,100.9 142.1,102.6 139.8,102.1 134.8,102.1 131.9,99.8 128.6,97.6 125.7,96.4 120.1,95.9 119.5,93.0 118.4,90.2 115.6,89.7 114.5,88.5 113.3,84.6 111.6,81.5 109.0,78.0 106.5,75.5 103.9,73.5 101.1,73.5 100.5,72.4 101.1,70.1 102.2,69.0 105.6,68.4 106.7,66.2 107.3,63.3 107.8,60.0 108.4,57.1 109.5,54.5 111.8,53.2 113.5,50.4 114.6,47.6 115.7,44.7 118.0,41.4 121.4,39.1 122.5,35.7 123.6,32.9 124.2,30.1 126.5,29.7 129.8,29.7 132.1,28.9" fill="none" stroke="#fff" stroke-opacity="0.5" stroke-width="3.4" stroke-linejoin="round"/>
<polygon points="115.6,89.7 118.4,90.2 119.5,93.0 120.1,95.9 125.7,96.4 128.6,97.6 131.9,99.8 134.8,102.1 139.8,102.1 142.1,102.6 145.5,100.9 148.9,98.7 151.6,97.7 155.0,98.8 157.8,100.0 158.4,101.1 156.7,103.3 154.5,106.7 153.9,110.1 153.9,115.0 154.0,125.8 154.3,132.5 158.3,136.4 155.5,139.2 153.2,140.9 149.8,142.6 148.7,145.4 147.0,148.8 145.9,152.2 144.2,155.6 142.5,157.9 141.9,157.3 136.9,153.3 132.4,150.0 130.1,145.4 122.6,141.5 116.8,138.5 111.1,135.3 106.0,133.0 106.0,129.5 106.6,125.0 108.6,121.0 111.5,117.5 113.3,114.5 112.5,110.0 111.6,107.7 109.4,103.2 107.7,99.8 107.7,96.4 110.5,93.6 112.8,91.4" fill="none" stroke="#fff" stroke-opacity="0.5" stroke-width="3.4" stroke-linejoin="round"/>
<polygon points="106.0,133.0 82.9,133.0 84.0,135.3 85.7,136.4 85.2,138.7 84.6,140.9 84.0,142.1 84.0,144.3 82.9,145.4 84.6,147.1 83.5,149.4 80.7,152.8 78.4,155.0 75.6,157.3 75.0,159.5 76.7,162.9 77.3,168.5 80.7,173.0 82.9,175.9 84.6,180.9 87.4,184.3 90.8,185.4 95.3,187.7 99.8,190.0 104.3,191.1 108.3,191.1 110.0,194.0 111.1,198.0 111.5,200.5 113.0,202.8 117.3,203.8 121.3,204.6 123.2,205.6 125.2,204.6 129.7,203.5 135.3,202.4 139.8,200.1 145.5,198.4 150.5,196.2 147.2,193.9 144.9,188.8 143.2,184.3 142.7,179.8 138.4,179.2 142.1,177.6 143.2,174.2 141.5,170.8 140.0,168.5 139.1,166.9 139.8,163.5 141.4,160.1 142.5,157.9 141.9,157.3 136.9,153.3 132.4,150.0 130.1,145.4 122.6,141.5 116.8,138.5 111.1,135.3" fill="none" stroke="#fff" stroke-opacity="0.5" stroke-width="3.4" stroke-linejoin="round"/>
<polygon points="133.2,26.4 134.3,27.3 138.9,28.4 143.4,27.5 146.0,28.9 150.5,30.1 153.3,32.3 155.0,35.1 157.3,36.8 160.1,39.1 162.9,42.5 160.7,45.3 159.0,48.7 159.5,52.1 163.5,52.1 166.3,52.6 165.7,55.4 168.6,60.0 173.1,64.5 179.8,67.5 186.6,69.8 193.4,72.0 201.3,72.9 198.4,74.8 195.6,77.4 192.2,80.8 188.9,84.2 186.6,87.0 184.3,89.8 181.0,93.2 176.4,93.2 171.9,93.2 169.7,94.9 166.3,97.1 162.9,97.7 159.5,99.4 157.8,100.0 155.0,98.8 151.6,97.7 148.9,98.7 145.5,100.9 142.1,102.6 139.8,102.1 134.8,102.1 131.9,99.8 128.6,97.6 125.7,96.4 120.1,95.9 119.5,93.0 118.4,90.2 115.6,89.7 114.5,88.5 113.3,84.6 111.6,81.5 109.0,78.0 106.5,75.5 103.9,73.5 101.1,73.5 100.5,72.4 101.1,70.1 102.2,69.0 105.6,68.4 106.7,66.2 107.3,63.3 107.8,60.0 108.4,57.1 109.5,54.5 111.8,53.2 113.5,50.4 114.6,47.6 115.7,44.7 118.0,41.4 121.4,39.1 122.5,35.7 123.6,32.9 124.2,30.1 126.5,29.7 129.8,29.7 132.1,28.9" fill="none" stroke="#2a2a2a" stroke-width="1.55" stroke-linejoin="round"/>
<polygon points="115.6,89.7 118.4,90.2 119.5,93.0 120.1,95.9 125.7,96.4 128.6,97.6 131.9,99.8 134.8,102.1 139.8,102.1 142.1,102.6 145.5,100.9 148.9,98.7 151.6,97.7 155.0,98.8 157.8,100.0 158.4,101.1 156.7,103.3 154.5,106.7 153.9,110.1 153.9,115.0 154.0,125.8 154.3,132.5 158.3,136.4 155.5,139.2 153.2,140.9 149.8,142.6 148.7,145.4 147.0,148.8 145.9,152.2 144.2,155.6 142.5,157.9 141.9,157.3 136.9,153.3 132.4,150.0 130.1,145.4 122.6,141.5 116.8,138.5 111.1,135.3 106.0,133.0 106.0,129.5 106.6,125.0 108.6,121.0 111.5,117.5 113.3,114.5 112.5,110.0 111.6,107.7 109.4,103.2 107.7,99.8 107.7,96.4 110.5,93.6 112.8,91.4" fill="none" stroke="#2a2a2a" stroke-width="1.55" stroke-linejoin="round"/>
<polygon points="106.0,133.0 82.9,133.0 84.0,135.3 85.7,136.4 85.2,138.7 84.6,140.9 84.0,142.1 84.0,144.3 82.9,145.4 84.6,147.1 83.5,149.4 80.7,152.8 78.4,155.0 75.6,157.3 75.0,159.5 76.7,162.9 77.3,168.5 80.7,173.0 82.9,175.9 84.6,180.9 87.4,184.3 90.8,185.4 95.3,187.7 99.8,190.0 104.3,191.1 108.3,191.1 110.0,194.0 111.1,198.0 111.5,200.5 113.0,202.8 117.3,203.8 121.3,204.6 123.2,205.6 125.2,204.6 129.7,203.5 135.3,202.4 139.8,200.1 145.5,198.4 150.5,196.2 147.2,193.9 144.9,188.8 143.2,184.3 142.7,179.8 138.4,179.2 142.1,177.6 143.2,174.2 141.5,170.8 140.0,168.5 139.1,166.9 139.8,163.5 141.4,160.1 142.5,157.9 141.9,157.3 136.9,153.3 132.4,150.0 130.1,145.4 122.6,141.5 116.8,138.5 111.1,135.3" fill="none" stroke="#2a2a2a" stroke-width="1.55" stroke-linejoin="round"/>
<ellipse cx="145.6" cy="161.3" rx="1.15" ry="2.5" fill="#000"/>
<ellipse cx="143.3" cy="168.2" rx="1.0" ry="2.1" fill="#000"/>
<ellipse cx="145.6" cy="178.8" rx="0.9" ry="1.5" fill="#000"/>
<ellipse cx="155.2" cy="139.3" rx="1.4" ry="0.9" fill="#000"/>
</g>
<g transform="matrix(0.988,0,0,1,146.9,416.3)">
<g clip-path="url(#land)">
<g filter="url(#bl)"><rect x="60" y="20" width="150" height="190" fill="#F3F2F2"/>
<polygon points="95,20 157,20 161,30 161.3,44 150.8,54.3 145.5,64.8 153.4,70.1 148.1,74.1 138.9,75.4 135,83.3 132.3,91.2 125,100 95,100" fill="#E9CDD1"/>
<polygon points="117,46.5 125,44 135,45 145,44.5 152,45 162,46 162,54 150,54.5 140,52.5 130,52 122,53.5 118,51" fill="#F4F3F3"/>
<polygon points="100,56 108.7,54.3 118,56 126,55 132.3,56 134,64 132.3,75 128,83.3 118,82 108.7,80 100,74" fill="#E3B7BC"/>
<ellipse cx="128.4" cy="61.6" rx="2.60" ry="2.60" fill="#DDA5AB"/>
<ellipse cx="128.4" cy="61.6" rx="2.33" ry="2.33" fill="#D8939B"/>
<ellipse cx="128.4" cy="61.6" rx="2.06" ry="2.06" fill="#D2818A"/>
<ellipse cx="128.4" cy="61.6" rx="1.79" ry="1.79" fill="#CC6F7A"/>
<ellipse cx="128.4" cy="61.6" rx="1.53" ry="1.53" fill="#C75C69"/>
<ellipse cx="128.4" cy="61.6" rx="1.26" ry="1.26" fill="#C34A58"/>
<circle cx="131.7" cy="58.3" r="1.6" fill="#DA99A0"/>
<ellipse cx="123.1" cy="68.8" rx="2.20" ry="2.20" fill="#DEA7AD"/>
<ellipse cx="123.1" cy="68.8" rx="1.75" ry="1.75" fill="#D9979E"/>
<ellipse cx="123.1" cy="68.8" rx="1.29" ry="1.29" fill="#D4878F"/>
<circle cx="111.9" cy="58.9" r="1.8" fill="#DB9DA4"/>
<circle cx="118.5" cy="72.1" r="1.9" fill="#D9969D"/>
<ellipse cx="142.9" cy="75.4" rx="2.00" ry="2.00" fill="#E4BABE"/>
<ellipse cx="142.9" cy="75.4" rx="1.69" ry="1.69" fill="#DDA6AD"/>
<ellipse cx="142.9" cy="75.4" rx="1.38" ry="1.38" fill="#D8939A"/>
<ellipse cx="142.9" cy="75.4" rx="1.07" ry="1.07" fill="#D27F89"/>
<circle cx="131" cy="74.1" r="1.5" fill="#DFACB2"/>
<circle cx="124.4" cy="85.9" r="1.5" fill="#E1B3B9"/>
<circle cx="126.5" cy="58" r="1.2" fill="#DB9DA4"/>
<circle cx="134.5" cy="64.5" r="1.2" fill="#DDA4AB"/>
<circle cx="114" cy="66" r="1.3" fill="#DDA4AB"/>
<circle cx="134.3" cy="37.9" r="2.4" fill="#F4F3F3"/>
<ellipse cx="145.5" cy="36.2" rx="5" ry="3" fill="#F4F3F3"/>
<circle cx="117.2" cy="62.2" r="1.6" fill="#F4F3F3"/>
<circle cx="121.8" cy="73.4" r="2.0" fill="#F4F3F3"/>
<circle cx="138.9" cy="60.2" r="2.0" fill="#F4F3F3"/>
<circle cx="140.9" cy="70.1" r="2.4" fill="#F4F3F3"/>
<circle cx="135" cy="80.6" r="1.6" fill="#F4F3F3"/>
<circle cx="126.2" cy="63.5" r="1.2" fill="#F4F3F3"/>
<polygon points="115.6,89.7 118.4,90.2 119.5,93 120.1,95.9 125.7,96.4 128.6,97.6 131.9,99.8 134.8,102.1 139.8,102.1 142.1,102.6 145.5,100.9 148.9,98.7 151.6,97.7 155,98.8 157.8,100 158.4,101.1 156.7,103.3 154.5,106.7 153.9,110.1 153.9,115 154,125.8 154.3,132.5 158.3,136.4 155.5,139.2 153.2,140.9 149.8,142.6 148.7,145.4 147,148.8 145.9,152.2 144.2,155.6 142.5,157.9 141.9,157.3 136.9,153.3 132.4,150 130.1,145.4 122.6,141.5 116.8,138.5 111.1,135.3 106,133 106,129.5 106.6,125 108.6,121 111.5,117.5 113.3,114.5 112.5,110 111.6,107.7 109.4,103.2 107.7,99.8 107.7,96.4 110.5,93.6 112.8,91.4" fill="#EBD4D8"/>
<polygon points="130,106 139,108 143,118 142,128 150,134 151,141 141,143 126,140 114,137 107,133 107,121 119,120 128,122 128,114" fill="#E4BBBF"/>
<polygon points="132,142 150,141 153,143 143,158 138,155" fill="#EEDEE0"/>
<ellipse cx="120.5" cy="127.5" rx="3.00" ry="3.00" fill="#DFACB2"/>
<ellipse cx="120.5" cy="127.5" rx="2.07" ry="2.07" fill="#DB9DA4"/>
<ellipse cx="127" cy="129.4" rx="2.40" ry="2.40" fill="#DFACB2"/>
<ellipse cx="127" cy="129.4" rx="1.66" ry="1.66" fill="#DB9DA4"/>
<ellipse cx="112" cy="123.7" rx="2.20" ry="2.20" fill="#DFACB2"/>
<circle cx="152.4" cy="102.1" r="2.0" fill="#E4BBBF"/>
<circle cx="150" cy="121.5" r="1.8" fill="#E4BBBF"/>
<circle cx="135" cy="113" r="1.6" fill="#E1B3B9"/>
<circle cx="115.7" cy="128" r="1.6" fill="#DFACB2"/>
<circle cx="118.6" cy="104.9" r="2.6" fill="#F4F3F3"/>
<circle cx="144.9" cy="128.4" r="2.4" fill="#F4F3F3"/>
<circle cx="121.4" cy="112.4" r="1.6" fill="#F2EEEF"/>
<circle cx="124.5" cy="125.8" r="1.3" fill="#F2EEEF"/>
<polygon points="106,133 82.9,133 84,135.3 85.7,136.4 85.2,138.7 84.6,140.9 84,142.1 84,144.3 82.9,145.4 84.6,147.1 83.5,149.4 80.7,152.8 78.4,155 75.6,157.3 75,159.5 76.7,162.9 77.3,168.5 80.7,173 82.9,175.9 84.6,180.9 87.4,184.3 90.8,185.4 95.3,187.7 99.8,190 104.3,191.1 108.3,191.1 110,194 111.1,198 111.5,200.5 113,202.8 117.3,203.8 121.3,204.6 123.2,205.6 125.2,204.6 129.7,203.5 135.3,202.4 139.8,200.1 145.5,198.4 150.5,196.2 147.2,193.9 144.9,188.8 143.2,184.3 142.7,179.8 138.4,179.2 142.1,177.6 143.2,174.2 141.5,170.8 140,168.5 139.1,166.9 139.8,163.5 141.4,160.1 142.5,157.9 141.9,157.3 136.9,153.3 132.4,150 130.1,145.4 122.6,141.5 116.8,138.5 111.1,135.3" fill="#EAD0D4"/>
<polygon points="112,137 132,148 142,158 142,176 134,176 124,170 116,160 113,150" fill="#EEDEE0"/>
<ellipse cx="99.5" cy="146" rx="4" ry="6.5" fill="#F3F2F2"/>
<polygon points="74,156 86,157 91,163 90,172 86,179 76,168" fill="#E0AFB5"/>
<circle cx="77.7" cy="159.5" r="2.2" fill="#DB9DA4"/>
<polygon points="98,180 112,180 125,179 136,180 142,185 147,195 140,200 125,205 112,203 108,192 100,188" fill="#E0AFB5"/>
<ellipse cx="108.5" cy="172" rx="8.5" ry="11" fill="#E0AFB5"/>
<ellipse cx="109.5" cy="170.8" rx="6.00" ry="7.00" fill="#DCA0A7"/>
<ellipse cx="109.5" cy="170.8" rx="5.07" ry="5.92" fill="#D79098"/>
<ellipse cx="109.5" cy="170.8" rx="4.14" ry="4.83" fill="#D28089"/>
<ellipse cx="109.5" cy="170.8" rx="3.21" ry="3.75" fill="#CD707B"/>
<circle cx="121" cy="188" r="1.0" fill="#DB9DA4"/>
<circle cx="126" cy="192" r="1.0" fill="#DB9DA4"/>
<circle cx="131" cy="190" r="1.0" fill="#DB9DA4"/>
<circle cx="99.5" cy="143" r="2.2" fill="#F4F3F3"/>
<circle cx="100.3" cy="149.8" r="2.0" fill="#F4F3F3"/>
<circle cx="98.8" cy="159.5" r="2.0" fill="#F4F3F3"/>
<circle cx="95.3" cy="169.3" r="2.4" fill="#F4F3F3"/>
<circle cx="119.7" cy="167.5" r="2.2" fill="#F4F3F3"/>
<circle cx="125.8" cy="148.3" r="2.6" fill="#F4F3F3"/>
<circle cx="130.8" cy="171.8" r="2.4" fill="#F4F3F3"/>
<circle cx="119.4" cy="177.3" r="2.2" fill="#F4F3F3"/>
<circle cx="103.2" cy="185.1" r="2.3" fill="#E2E6ED"/>
<circle cx="136.2" cy="159.5" r="2.0" fill="#F4F3F3"/></g>
</g>
<polygon points="133.2,26.4 134.3,27.3 138.9,28.4 143.4,27.5 146.0,28.9 150.5,30.1 153.3,32.3 155.0,35.1 157.3,36.8 160.1,39.1 162.9,42.5 160.7,45.3 159.0,48.7 159.5,52.1 163.5,52.1 166.3,52.6 165.7,55.4 168.6,60.0 173.1,64.5 179.8,67.5 186.6,69.8 193.4,72.0 201.3,72.9 198.4,74.8 195.6,77.4 192.2,80.8 188.9,84.2 186.6,87.0 184.3,89.8 181.0,93.2 176.4,93.2 171.9,93.2 169.7,94.9 166.3,97.1 162.9,97.7 159.5,99.4 157.8,100.0 155.0,98.8 151.6,97.7 148.9,98.7 145.5,100.9 142.1,102.6 139.8,102.1 134.8,102.1 131.9,99.8 128.6,97.6 125.7,96.4 120.1,95.9 119.5,93.0 118.4,90.2 115.6,89.7 114.5,88.5 113.3,84.6 111.6,81.5 109.0,78.0 106.5,75.5 103.9,73.5 101.1,73.5 100.5,72.4 101.1,70.1 102.2,69.0 105.6,68.4 106.7,66.2 107.3,63.3 107.8,60.0 108.4,57.1 109.5,54.5 111.8,53.2 113.5,50.4 114.6,47.6 115.7,44.7 118.0,41.4 121.4,39.1 122.5,35.7 123.6,32.9 124.2,30.1 126.5,29.7 129.8,29.7 132.1,28.9" fill="none" stroke="#fff" stroke-opacity="0.5" stroke-width="3.4" stroke-linejoin="round"/>
<polygon points="115.6,89.7 118.4,90.2 119.5,93.0 120.1,95.9 125.7,96.4 128.6,97.6 131.9,99.8 134.8,102.1 139.8,102.1 142.1,102.6 145.5,100.9 148.9,98.7 151.6,97.7 155.0,98.8 157.8,100.0 158.4,101.1 156.7,103.3 154.5,106.7 153.9,110.1 153.9,115.0 154.0,125.8 154.3,132.5 158.3,136.4 155.5,139.2 153.2,140.9 149.8,142.6 148.7,145.4 147.0,148.8 145.9,152.2 144.2,155.6 142.5,157.9 141.9,157.3 136.9,153.3 132.4,150.0 130.1,145.4 122.6,141.5 116.8,138.5 111.1,135.3 106.0,133.0 106.0,129.5 106.6,125.0 108.6,121.0 111.5,117.5 113.3,114.5 112.5,110.0 111.6,107.7 109.4,103.2 107.7,99.8 107.7,96.4 110.5,93.6 112.8,91.4" fill="none" stroke="#fff" stroke-opacity="0.5" stroke-width="3.4" stroke-linejoin="round"/>
<polygon points="106.0,133.0 82.9,133.0 84.0,135.3 85.7,136.4 85.2,138.7 84.6,140.9 84.0,142.1 84.0,144.3 82.9,145.4 84.6,147.1 83.5,149.4 80.7,152.8 78.4,155.0 75.6,157.3 75.0,159.5 76.7,162.9 77.3,168.5 80.7,173.0 82.9,175.9 84.6,180.9 87.4,184.3 90.8,185.4 95.3,187.7 99.8,190.0 104.3,191.1 108.3,191.1 110.0,194.0 111.1,198.0 111.5,200.5 113.0,202.8 117.3,203.8 121.3,204.6 123.2,205.6 125.2,204.6 129.7,203.5 135.3,202.4 139.8,200.1 145.5,198.4 150.5,196.2 147.2,193.9 144.9,188.8 143.2,184.3 142.7,179.8 138.4,179.2 142.1,177.6 143.2,174.2 141.5,170.8 140.0,168.5 139.1,166.9 139.8,163.5 141.4,160.1 142.5,157.9 141.9,157.3 136.9,153.3 132.4,150.0 130.1,145.4 122.6,141.5 116.8,138.5 111.1,135.3" fill="none" stroke="#fff" stroke-opacity="0.5" stroke-width="3.4" stroke-linejoin="round"/>
<polygon points="133.2,26.4 134.3,27.3 138.9,28.4 143.4,27.5 146.0,28.9 150.5,30.1 153.3,32.3 155.0,35.1 157.3,36.8 160.1,39.1 162.9,42.5 160.7,45.3 159.0,48.7 159.5,52.1 163.5,52.1 166.3,52.6 165.7,55.4 168.6,60.0 173.1,64.5 179.8,67.5 186.6,69.8 193.4,72.0 201.3,72.9 198.4,74.8 195.6,77.4 192.2,80.8 188.9,84.2 186.6,87.0 184.3,89.8 181.0,93.2 176.4,93.2 171.9,93.2 169.7,94.9 166.3,97.1 162.9,97.7 159.5,99.4 157.8,100.0 155.0,98.8 151.6,97.7 148.9,98.7 145.5,100.9 142.1,102.6 139.8,102.1 134.8,102.1 131.9,99.8 128.6,97.6 125.7,96.4 120.1,95.9 119.5,93.0 118.4,90.2 115.6,89.7 114.5,88.5 113.3,84.6 111.6,81.5 109.0,78.0 106.5,75.5 103.9,73.5 101.1,73.5 100.5,72.4 101.1,70.1 102.2,69.0 105.6,68.4 106.7,66.2 107.3,63.3 107.8,60.0 108.4,57.1 109.5,54.5 111.8,53.2 113.5,50.4 114.6,47.6 115.7,44.7 118.0,41.4 121.4,39.1 122.5,35.7 123.6,32.9 124.2,30.1 126.5,29.7 129.8,29.7 132.1,28.9" fill="none" stroke="#2a2a2a" stroke-width="1.55" stroke-linejoin="round"/>
<polygon points="115.6,89.7 118.4,90.2 119.5,93.0 120.1,95.9 125.7,96.4 128.6,97.6 131.9,99.8 134.8,102.1 139.8,102.1 142.1,102.6 145.5,100.9 148.9,98.7 151.6,97.7 155.0,98.8 157.8,100.0 158.4,101.1 156.7,103.3 154.5,106.7 153.9,110.1 153.9,115.0 154.0,125.8 154.3,132.5 158.3,136.4 155.5,139.2 153.2,140.9 149.8,142.6 148.7,145.4 147.0,148.8 145.9,152.2 144.2,155.6 142.5,157.9 141.9,157.3 136.9,153.3 132.4,150.0 130.1,145.4 122.6,141.5 116.8,138.5 111.1,135.3 106.0,133.0 106.0,129.5 106.6,125.0 108.6,121.0 111.5,117.5 113.3,114.5 112.5,110.0 111.6,107.7 109.4,103.2 107.7,99.8 107.7,96.4 110.5,93.6 112.8,91.4" fill="none" stroke="#2a2a2a" stroke-width="1.55" stroke-linejoin="round"/>
<polygon points="106.0,133.0 82.9,133.0 84.0,135.3 85.7,136.4 85.2,138.7 84.6,140.9 84.0,142.1 84.0,144.3 82.9,145.4 84.6,147.1 83.5,149.4 80.7,152.8 78.4,155.0 75.6,157.3 75.0,159.5 76.7,162.9 77.3,168.5 80.7,173.0 82.9,175.9 84.6,180.9 87.4,184.3 90.8,185.4 95.3,187.7 99.8,190.0 104.3,191.1 108.3,191.1 110.0,194.0 111.1,198.0 111.5,200.5 113.0,202.8 117.3,203.8 121.3,204.6 123.2,205.6 125.2,204.6 129.7,203.5 135.3,202.4 139.8,200.1 145.5,198.4 150.5,196.2 147.2,193.9 144.9,188.8 143.2,184.3 142.7,179.8 138.4,179.2 142.1,177.6 143.2,174.2 141.5,170.8 140.0,168.5 139.1,166.9 139.8,163.5 141.4,160.1 142.5,157.9 141.9,157.3 136.9,153.3 132.4,150.0 130.1,145.4 122.6,141.5 116.8,138.5 111.1,135.3" fill="none" stroke="#2a2a2a" stroke-width="1.55" stroke-linejoin="round"/>
<ellipse cx="145.6" cy="161.3" rx="1.15" ry="2.5" fill="#000"/>
<ellipse cx="143.3" cy="168.2" rx="1.0" ry="2.1" fill="#000"/>
<ellipse cx="145.6" cy="178.8" rx="0.9" ry="1.5" fill="#000"/>
<ellipse cx="155.2" cy="139.3" rx="1.4" ry="0.9" fill="#000"/>
</g>
<g transform="matrix(0.9913,0,0,1,292.05,416.3)">
<g clip-path="url(#land)">
<g filter="url(#bl)"><rect x="60" y="20" width="150" height="190" fill="#F3F2F2"/>
<polygon points="95,20 165,20 165,45 157.5,54.3 158.9,67.5 157.5,74.1 152.3,84.6 148.3,91.2 140,96 130,98 95,100" fill="#E6C0C4"/>
<polygon points="133,78 140,72 150,68 157,67 160,74 152,84.6 148,91 140,96 130,97 128,90" fill="#ECD7DA"/>
<ellipse cx="128.6" cy="49.7" rx="6.5" ry="2.5" fill="#F4F3F3"/>
<ellipse cx="144.3" cy="51" rx="3.5" ry="1.8" fill="#F4F3F3"/>
<ellipse cx="154.9" cy="47" rx="2.6" ry="1.9" fill="#F4F3F3"/>
<circle cx="137" cy="47.5" r="1.4" fill="#F4F3F3"/>
<polygon points="100,58 108.9,56 118,56 128.6,57 132,62 130,72 128.6,80.6 124,86 116,88 110,83 104,77 100,74" fill="#DDA4AA"/>
<circle cx="133.9" cy="30.6" r="2.2" fill="#D8959C"/>
<circle cx="126" cy="33.3" r="2.0" fill="#DFABB1"/>
<ellipse cx="127.9" cy="61.6" rx="3.00" ry="3.00" fill="#D8939A"/>
<ellipse cx="127.9" cy="61.6" rx="2.73" ry="2.73" fill="#D2818A"/>
<ellipse cx="127.9" cy="61.6" rx="2.47" ry="2.47" fill="#CD707B"/>
<ellipse cx="127.9" cy="61.6" rx="2.20" ry="2.20" fill="#C85E6B"/>
<ellipse cx="127.9" cy="61.6" rx="1.94" ry="1.94" fill="#C34D5A"/>
<ellipse cx="127.9" cy="61.6" rx="1.67" ry="1.67" fill="#BE3C4B"/>
<ellipse cx="127.9" cy="61.6" rx="1.41" ry="1.41" fill="#B82A3C"/>
<ellipse cx="122.7" cy="68.8" rx="2.40" ry="2.40" fill="#D89299"/>
<ellipse cx="122.7" cy="68.8" rx="2.10" ry="2.10" fill="#D28089"/>
<ellipse cx="122.7" cy="68.8" rx="1.80" ry="1.80" fill="#CC6D79"/>
<ellipse cx="122.7" cy="68.8" rx="1.51" ry="1.51" fill="#C75B68"/>
<ellipse cx="122.7" cy="68.8" rx="1.21" ry="1.21" fill="#C24956"/>
<ellipse cx="116.8" cy="70.8" rx="2.40" ry="2.40" fill="#D8939B"/>
<ellipse cx="116.8" cy="70.8" rx="2.10" ry="2.10" fill="#D3838C"/>
<ellipse cx="116.8" cy="70.8" rx="1.80" ry="1.80" fill="#CD727D"/>
<ellipse cx="116.8" cy="70.8" rx="1.51" ry="1.51" fill="#C8616D"/>
<ellipse cx="116.8" cy="70.8" rx="1.21" ry="1.21" fill="#C4505E"/>
<ellipse cx="142.4" cy="75.4" rx="2.30" ry="2.30" fill="#E0AFB5"/>
<ellipse cx="142.4" cy="75.4" rx="2.10" ry="2.10" fill="#DB9EA5"/>
<ellipse cx="142.4" cy="75.4" rx="1.89" ry="1.89" fill="#D68D95"/>
<ellipse cx="142.4" cy="75.4" rx="1.69" ry="1.69" fill="#D17C86"/>
<ellipse cx="142.4" cy="75.4" rx="1.49" ry="1.49" fill="#CB6B77"/>
<ellipse cx="142.4" cy="75.4" rx="1.28" ry="1.28" fill="#C65A67"/>
<ellipse cx="142.4" cy="75.4" rx="1.08" ry="1.08" fill="#C24956"/>
<ellipse cx="110.8" cy="57.6" rx="2.00" ry="2.00" fill="#D79098"/>
<ellipse cx="110.8" cy="57.6" rx="1.59" ry="1.59" fill="#D07B85"/>
<ellipse cx="110.8" cy="57.6" rx="1.17" ry="1.17" fill="#CA6773"/>
<circle cx="135" cy="58" r="1.6" fill="#D68D95"/>
<circle cx="138" cy="65" r="1.5" fill="#D8959C"/>
<circle cx="131" cy="69" r="1.4" fill="#D68D95"/>
<circle cx="125" cy="76" r="1.5" fill="#D68D95"/>
<circle cx="113" cy="75" r="1.5" fill="#D4868E"/>
<circle cx="147" cy="58" r="1.3" fill="#DB9CA3"/>
<circle cx="129.5" cy="43" r="1.3" fill="#DB9CA3"/>
<circle cx="132.5" cy="37.2" r="2.0" fill="#F4F3F3"/>
<circle cx="145.7" cy="35.9" r="2.0" fill="#F4F3F3"/>
<circle cx="153.6" cy="37.2" r="1.5" fill="#F4F3F3"/>
<circle cx="116.8" cy="62.2" r="1.6" fill="#F4F3F3"/>
<circle cx="122.7" cy="73.4" r="2.0" fill="#F4F3F3"/>
<circle cx="127.3" cy="64.2" r="1.3" fill="#F4F3F3"/>
<circle cx="139.1" cy="59.6" r="1.6" fill="#F4F3F3"/>
<circle cx="141.1" cy="68.8" r="1.6" fill="#F4F3F3"/>
<circle cx="146.4" cy="66.2" r="1.6" fill="#F4F3F3"/>
<circle cx="152.3" cy="63.5" r="2.4" fill="#F4F3F3"/>
<circle cx="145.7" cy="83.3" r="2.4" fill="#F4F3F3"/>
<circle cx="152.3" cy="78.7" r="1.8" fill="#F4F3F3"/>
<circle cx="140.4" cy="87.2" r="1.8" fill="#F4F3F3"/>
<circle cx="131.2" cy="80.6" r="1.5" fill="#F4F3F3"/>
<circle cx="135.2" cy="88.5" r="1.5" fill="#F4F3F3"/>
<polygon points="115.6,89.7 118.4,90.2 119.5,93 120.1,95.9 125.7,96.4 128.6,97.6 131.9,99.8 134.8,102.1 139.8,102.1 142.1,102.6 145.5,100.9 148.9,98.7 151.6,97.7 155,98.8 157.8,100 158.4,101.1 156.7,103.3 154.5,106.7 153.9,110.1 153.9,115 154,125.8 154.3,132.5 158.3,136.4 155.5,139.2 153.2,140.9 149.8,142.6 148.7,145.4 147,148.8 145.9,152.2 144.2,155.6 142.5,157.9 141.9,157.3 136.9,153.3 132.4,150 130.1,145.4 122.6,141.5 116.8,138.5 111.1,135.3 106,133 106,129.5 106.6,125 108.6,121 111.5,117.5 113.3,114.5 112.5,110 111.6,107.7 109.4,103.2 107.7,99.8 107.7,96.4 110.5,93.6 112.8,91.4" fill="#DFABB1"/>
<polygon points="130,106 139,108 143,118 142,128 150,134 151,141 141,143 126,140 114,137 107,133 107,121 119,120 128,122 128,114" fill="#D58992"/>
<polygon points="132,142 150,141 153,143 143,158 138,155" fill="#E8C9CD"/>
<ellipse cx="120.5" cy="127.5" rx="3.00" ry="3.00" fill="#CE7580"/>
<ellipse cx="120.5" cy="127.5" rx="2.54" ry="2.54" fill="#C8616E"/>
<ellipse cx="120.5" cy="127.5" rx="2.07" ry="2.07" fill="#C34D5B"/>
<ellipse cx="120.5" cy="127.5" rx="1.60" ry="1.60" fill="#BD3949"/>
<ellipse cx="127" cy="129.4" rx="2.40" ry="2.40" fill="#CF7882"/>
<ellipse cx="127" cy="129.4" rx="2.10" ry="2.10" fill="#CA6672"/>
<ellipse cx="127" cy="129.4" rx="1.80" ry="1.80" fill="#C55562"/>
<ellipse cx="127" cy="129.4" rx="1.51" ry="1.51" fill="#C14351"/>
<ellipse cx="127" cy="129.4" rx="1.21" ry="1.21" fill="#BA3242"/>
<ellipse cx="112" cy="123.7" rx="2.20" ry="2.20" fill="#CE747F"/>
<ellipse cx="112" cy="123.7" rx="1.52" ry="1.52" fill="#C85F6C"/>
<circle cx="152.4" cy="102.1" r="2.0" fill="#D68D95"/>
<circle cx="150" cy="121.5" r="1.8" fill="#D8959C"/>
<circle cx="135" cy="113" r="1.6" fill="#D17E88"/>
<circle cx="115.7" cy="128" r="1.6" fill="#C85F6C"/>
<circle cx="118.6" cy="104.9" r="2.6" fill="#F4F3F3"/>
<circle cx="144.9" cy="128.4" r="2.4" fill="#F4F3F3"/>
<circle cx="121.4" cy="112.4" r="1.6" fill="#F2EEEF"/>
<circle cx="124.5" cy="125.8" r="1.3" fill="#F2EEEF"/>
<polygon points="106,133 82.9,133 84,135.3 85.7,136.4 85.2,138.7 84.6,140.9 84,142.1 84,144.3 82.9,145.4 84.6,147.1 83.5,149.4 80.7,152.8 78.4,155 75.6,157.3 75,159.5 76.7,162.9 77.3,168.5 80.7,173 82.9,175.9 84.6,180.9 87.4,184.3 90.8,185.4 95.3,187.7 99.8,190 104.3,191.1 108.3,191.1 110,194 111.1,198 111.5,200.5 113,202.8 117.3,203.8 121.3,204.6 123.2,205.6 125.2,204.6 129.7,203.5 135.3,202.4 139.8,200.1 145.5,198.4 150.5,196.2 147.2,193.9 144.9,188.8 143.2,184.3 142.7,179.8 138.4,179.2 142.1,177.6 143.2,174.2 141.5,170.8 140,168.5 139.1,166.9 139.8,163.5 141.4,160.1 142.5,157.9 141.9,157.3 136.9,153.3 132.4,150 130.1,145.4 122.6,141.5 116.8,138.5 111.1,135.3" fill="#DFABB1"/>
<polygon points="112,137 132,148 142,158 142,176 134,176 124,170 116,160 113,150" fill="#E7C5C9"/>
<ellipse cx="99.5" cy="146" rx="4" ry="6.5" fill="#EAD0D4"/>
<polygon points="74,156 86,157 91,163 90,172 86,179 76,168" fill="#D17E88"/>
<circle cx="77.7" cy="159.5" r="2.2" fill="#C85F6C"/>
<polygon points="98,180 112,180 125,179 136,180 142,185 147,195 140,200 125,205 112,203 108,192 100,188" fill="#D68D95"/>
<ellipse cx="108.5" cy="172" rx="8.5" ry="11" fill="#D68D95"/>
<ellipse cx="109.5" cy="170.8" rx="6.00" ry="7.00" fill="#D17C86"/>
<ellipse cx="109.5" cy="170.8" rx="5.47" ry="6.38" fill="#CB6A76"/>
<ellipse cx="109.5" cy="170.8" rx="4.94" ry="5.76" fill="#C65966"/>
<ellipse cx="109.5" cy="170.8" rx="4.41" ry="5.14" fill="#C24855"/>
<ellipse cx="109.5" cy="170.8" rx="3.87" ry="4.52" fill="#BC3646"/>
<ellipse cx="109.5" cy="170.8" rx="3.34" ry="3.90" fill="#B62537"/>
<ellipse cx="109.5" cy="170.8" rx="2.81" ry="3.28" fill="#B51F31"/>
<circle cx="121" cy="188" r="1.0" fill="#C85F6C"/>
<circle cx="126" cy="192" r="1.0" fill="#C85F6C"/>
<circle cx="131" cy="190" r="1.0" fill="#C85F6C"/>
<circle cx="99.5" cy="143" r="2.2" fill="#F4F3F3"/>
<circle cx="100.3" cy="149.8" r="2.0" fill="#F4F3F3"/>
<circle cx="98.8" cy="159.5" r="2.0" fill="#F4F3F3"/>
<circle cx="95.3" cy="169.3" r="2.4" fill="#F4F3F3"/>
<circle cx="119.7" cy="167.5" r="2.2" fill="#F4F3F3"/>
<circle cx="125.8" cy="148.3" r="2.6" fill="#F4F3F3"/>
<circle cx="130.8" cy="171.8" r="2.4" fill="#F4F3F3"/>
<circle cx="119.4" cy="177.3" r="2.2" fill="#F4F3F3"/>
<circle cx="103.2" cy="185.1" r="2.3" fill="#E2E6ED"/>
<circle cx="136.2" cy="159.5" r="2.0" fill="#F4F3F3"/></g>
</g>
<polygon points="133.2,26.4 134.3,27.3 138.9,28.4 143.4,27.5 146.0,28.9 150.5,30.1 153.3,32.3 155.0,35.1 157.3,36.8 160.1,39.1 162.9,42.5 160.7,45.3 159.0,48.7 159.5,52.1 163.5,52.1 166.3,52.6 165.7,55.4 168.6,60.0 173.1,64.5 179.8,67.5 186.6,69.8 193.4,72.0 201.3,72.9 198.4,74.8 195.6,77.4 192.2,80.8 188.9,84.2 186.6,87.0 184.3,89.8 181.0,93.2 176.4,93.2 171.9,93.2 169.7,94.9 166.3,97.1 162.9,97.7 159.5,99.4 157.8,100.0 155.0,98.8 151.6,97.7 148.9,98.7 145.5,100.9 142.1,102.6 139.8,102.1 134.8,102.1 131.9,99.8 128.6,97.6 125.7,96.4 120.1,95.9 119.5,93.0 118.4,90.2 115.6,89.7 114.5,88.5 113.3,84.6 111.6,81.5 109.0,78.0 106.5,75.5 103.9,73.5 101.1,73.5 100.5,72.4 101.1,70.1 102.2,69.0 105.6,68.4 106.7,66.2 107.3,63.3 107.8,60.0 108.4,57.1 109.5,54.5 111.8,53.2 113.5,50.4 114.6,47.6 115.7,44.7 118.0,41.4 121.4,39.1 122.5,35.7 123.6,32.9 124.2,30.1 126.5,29.7 129.8,29.7 132.1,28.9" fill="none" stroke="#fff" stroke-opacity="0.5" stroke-width="3.4" stroke-linejoin="round"/>
<polygon points="115.6,89.7 118.4,90.2 119.5,93.0 120.1,95.9 125.7,96.4 128.6,97.6 131.9,99.8 134.8,102.1 139.8,102.1 142.1,102.6 145.5,100.9 148.9,98.7 151.6,97.7 155.0,98.8 157.8,100.0 158.4,101.1 156.7,103.3 154.5,106.7 153.9,110.1 153.9,115.0 154.0,125.8 154.3,132.5 158.3,136.4 155.5,139.2 153.2,140.9 149.8,142.6 148.7,145.4 147.0,148.8 145.9,152.2 144.2,155.6 142.5,157.9 141.9,157.3 136.9,153.3 132.4,150.0 130.1,145.4 122.6,141.5 116.8,138.5 111.1,135.3 106.0,133.0 106.0,129.5 106.6,125.0 108.6,121.0 111.5,117.5 113.3,114.5 112.5,110.0 111.6,107.7 109.4,103.2 107.7,99.8 107.7,96.4 110.5,93.6 112.8,91.4" fill="none" stroke="#fff" stroke-opacity="0.5" stroke-width="3.4" stroke-linejoin="round"/>
<polygon points="106.0,133.0 82.9,133.0 84.0,135.3 85.7,136.4 85.2,138.7 84.6,140.9 84.0,142.1 84.0,144.3 82.9,145.4 84.6,147.1 83.5,149.4 80.7,152.8 78.4,155.0 75.6,157.3 75.0,159.5 76.7,162.9 77.3,168.5 80.7,173.0 82.9,175.9 84.6,180.9 87.4,184.3 90.8,185.4 95.3,187.7 99.8,190.0 104.3,191.1 108.3,191.1 110.0,194.0 111.1,198.0 111.5,200.5 113.0,202.8 117.3,203.8 121.3,204.6 123.2,205.6 125.2,204.6 129.7,203.5 135.3,202.4 139.8,200.1 145.5,198.4 150.5,196.2 147.2,193.9 144.9,188.8 143.2,184.3 142.7,179.8 138.4,179.2 142.1,177.6 143.2,174.2 141.5,170.8 140.0,168.5 139.1,166.9 139.8,163.5 141.4,160.1 142.5,157.9 141.9,157.3 136.9,153.3 132.4,150.0 130.1,145.4 122.6,141.5 116.8,138.5 111.1,135.3" fill="none" stroke="#fff" stroke-opacity="0.5" stroke-width="3.4" stroke-linejoin="round"/>
<polygon points="133.2,26.4 134.3,27.3 138.9,28.4 143.4,27.5 146.0,28.9 150.5,30.1 153.3,32.3 155.0,35.1 157.3,36.8 160.1,39.1 162.9,42.5 160.7,45.3 159.0,48.7 159.5,52.1 163.5,52.1 166.3,52.6 165.7,55.4 168.6,60.0 173.1,64.5 179.8,67.5 186.6,69.8 193.4,72.0 201.3,72.9 198.4,74.8 195.6,77.4 192.2,80.8 188.9,84.2 186.6,87.0 184.3,89.8 181.0,93.2 176.4,93.2 171.9,93.2 169.7,94.9 166.3,97.1 162.9,97.7 159.5,99.4 157.8,100.0 155.0,98.8 151.6,97.7 148.9,98.7 145.5,100.9 142.1,102.6 139.8,102.1 134.8,102.1 131.9,99.8 128.6,97.6 125.7,96.4 120.1,95.9 119.5,93.0 118.4,90.2 115.6,89.7 114.5,88.5 113.3,84.6 111.6,81.5 109.0,78.0 106.5,75.5 103.9,73.5 101.1,73.5 100.5,72.4 101.1,70.1 102.2,69.0 105.6,68.4 106.7,66.2 107.3,63.3 107.8,60.0 108.4,57.1 109.5,54.5 111.8,53.2 113.5,50.4 114.6,47.6 115.7,44.7 118.0,41.4 121.4,39.1 122.5,35.7 123.6,32.9 124.2,30.1 126.5,29.7 129.8,29.7 132.1,28.9" fill="none" stroke="#2a2a2a" stroke-width="1.55" stroke-linejoin="round"/>
<polygon points="115.6,89.7 118.4,90.2 119.5,93.0 120.1,95.9 125.7,96.4 128.6,97.6 131.9,99.8 134.8,102.1 139.8,102.1 142.1,102.6 145.5,100.9 148.9,98.7 151.6,97.7 155.0,98.8 157.8,100.0 158.4,101.1 156.7,103.3 154.5,106.7 153.9,110.1 153.9,115.0 154.0,125.8 154.3,132.5 158.3,136.4 155.5,139.2 153.2,140.9 149.8,142.6 148.7,145.4 147.0,148.8 145.9,152.2 144.2,155.6 142.5,157.9 141.9,157.3 136.9,153.3 132.4,150.0 130.1,145.4 122.6,141.5 116.8,138.5 111.1,135.3 106.0,133.0 106.0,129.5 106.6,125.0 108.6,121.0 111.5,117.5 113.3,114.5 112.5,110.0 111.6,107.7 109.4,103.2 107.7,99.8 107.7,96.4 110.5,93.6 112.8,91.4" fill="none" stroke="#2a2a2a" stroke-width="1.55" stroke-linejoin="round"/>
<polygon points="106.0,133.0 82.9,133.0 84.0,135.3 85.7,136.4 85.2,138.7 84.6,140.9 84.0,142.1 84.0,144.3 82.9,145.4 84.6,147.1 83.5,149.4 80.7,152.8 78.4,155.0 75.6,157.3 75.0,159.5 76.7,162.9 77.3,168.5 80.7,173.0 82.9,175.9 84.6,180.9 87.4,184.3 90.8,185.4 95.3,187.7 99.8,190.0 104.3,191.1 108.3,191.1 110.0,194.0 111.1,198.0 111.5,200.5 113.0,202.8 117.3,203.8 121.3,204.6 123.2,205.6 125.2,204.6 129.7,203.5 135.3,202.4 139.8,200.1 145.5,198.4 150.5,196.2 147.2,193.9 144.9,188.8 143.2,184.3 142.7,179.8 138.4,179.2 142.1,177.6 143.2,174.2 141.5,170.8 140.0,168.5 139.1,166.9 139.8,163.5 141.4,160.1 142.5,157.9 141.9,157.3 136.9,153.3 132.4,150.0 130.1,145.4 122.6,141.5 116.8,138.5 111.1,135.3" fill="none" stroke="#2a2a2a" stroke-width="1.55" stroke-linejoin="round"/>
<ellipse cx="145.6" cy="161.3" rx="1.15" ry="2.5" fill="#000"/>
<ellipse cx="143.3" cy="168.2" rx="1.0" ry="2.1" fill="#000"/>
<ellipse cx="145.6" cy="178.8" rx="0.9" ry="1.5" fill="#000"/>
<ellipse cx="155.2" cy="139.3" rx="1.4" ry="0.9" fill="#000"/>
</g>
<rect x="66.5" y="1.8" width="138.3" height="23.6" fill="#FFE5CC" stroke="#000" stroke-width="1.2"/>
<rect x="66.5" y="25.4" width="138.3" height="181.3" fill="none" stroke="#000" stroke-width="1.2"/>
<text transform="translate(134.8,21.1) scale(0.962,1)" x="0" y="0" text-anchor="middle" fill="#0000FF" stroke="#0000FF" stroke-width="0.12" style="font-family:'Liberation Sans',sans-serif;font-size:20px">Rcp26-2020s</text>
<rect x="212.0" y="1.8" width="137.1" height="23.6" fill="#FFE5CC" stroke="#000" stroke-width="1.2"/>
<rect x="212.0" y="25.4" width="137.1" height="181.3" fill="none" stroke="#000" stroke-width="1.2"/>
<text transform="translate(279.8,21.1) scale(0.962,1)" x="0" y="0" text-anchor="middle" fill="#0000FF" stroke="#0000FF" stroke-width="0.12" style="font-family:'Liberation Sans',sans-serif;font-size:20px">Rcp26-2050s</text>
<rect x="358.0" y="1.8" width="136.9" height="23.6" fill="#FFE5CC" stroke="#000" stroke-width="1.2"/>
<rect x="358.0" y="25.4" width="136.9" height="181.3" fill="none" stroke="#000" stroke-width="1.2"/>
<text transform="translate(425.6,21.1) scale(0.962,1)" x="0" y="0" text-anchor="middle" fill="#0000FF" stroke="#0000FF" stroke-width="0.12" style="font-family:'Liberation Sans',sans-serif;font-size:20px">Rcp26-2080s</text>
<line x1="60" y1="25.2" x2="66.5" y2="25.2" stroke="#000" stroke-width="1.2"/>
<line x1="60" y1="59.0" x2="66.5" y2="59.0" stroke="#000" stroke-width="1.2"/>
<text x="54" y="64.4" text-anchor="end" fill="#000" stroke="#000" stroke-width="0.12" style="font-family:'Liberation Sans',sans-serif;font-size:13.7px">10<tspan style="font-size:12.5px" dy="0.8">°</tspan><tspan dy='-0.8'>N</tspan></text>
<line x1="60" y1="92.8" x2="66.5" y2="92.8" stroke="#000" stroke-width="1.2"/>
<text x="54" y="98.2" text-anchor="end" fill="#000" stroke="#000" stroke-width="0.12" style="font-family:'Liberation Sans',sans-serif;font-size:13.7px">5<tspan style="font-size:12.5px" dy="0.8">°</tspan><tspan dy='-0.8'>N</tspan></text>
<line x1="60" y1="126.6" x2="66.5" y2="126.6" stroke="#000" stroke-width="1.2"/>
<text x="54" y="132.0" text-anchor="end" fill="#000" stroke="#000" stroke-width="0.12" style="font-family:'Liberation Sans',sans-serif;font-size:13.7px">0<tspan style="font-size:12.5px" dy="0.8">°</tspan></text>
<line x1="60" y1="160.4" x2="66.5" y2="160.4" stroke="#000" stroke-width="1.2"/>
<text x="54" y="165.8" text-anchor="end" fill="#000" stroke="#000" stroke-width="0.12" style="font-family:'Liberation Sans',sans-serif;font-size:13.7px">5<tspan style="font-size:12.5px" dy="0.8">°</tspan><tspan dy='-0.8'>S</tspan></text>
<line x1="60" y1="194.2" x2="66.5" y2="194.2" stroke="#000" stroke-width="1.2"/>
<text x="54" y="199.6" text-anchor="end" fill="#000" stroke="#000" stroke-width="0.12" style="font-family:'Liberation Sans',sans-serif;font-size:13.7px">10<tspan style="font-size:12.5px" dy="0.8">°</tspan><tspan dy='-0.8'>S</tspan></text>
<rect x="66.5" y="210.4" width="138.3" height="23.5" fill="#FFE5CC" stroke="#000" stroke-width="1.2"/>
<rect x="66.5" y="233.9" width="138.3" height="181.5" fill="none" stroke="#000" stroke-width="1.2"/>
<text transform="translate(134.8,229.6) scale(0.962,1)" x="0" y="0" text-anchor="middle" fill="#0000FF" stroke="#0000FF" stroke-width="0.12" style="font-family:'Liberation Sans',sans-serif;font-size:20px">Rcp45-2020s</text>
<rect x="212.0" y="210.4" width="137.1" height="23.5" fill="#FFE5CC" stroke="#000" stroke-width="1.2"/>
<rect x="212.0" y="233.9" width="137.1" height="181.5" fill="none" stroke="#000" stroke-width="1.2"/>
<text transform="translate(279.8,229.6) scale(0.962,1)" x="0" y="0" text-anchor="middle" fill="#0000FF" stroke="#0000FF" stroke-width="0.12" style="font-family:'Liberation Sans',sans-serif;font-size:20px">Rcp45-2050s</text>
<rect x="358.0" y="210.4" width="136.9" height="23.5" fill="#FFE5CC" stroke="#000" stroke-width="1.2"/>
<rect x="358.0" y="233.9" width="136.9" height="181.5" fill="none" stroke="#000" stroke-width="1.2"/>
<text transform="translate(425.6,229.6) scale(0.962,1)" x="0" y="0" text-anchor="middle" fill="#0000FF" stroke="#0000FF" stroke-width="0.12" style="font-family:'Liberation Sans',sans-serif;font-size:20px">Rcp45-2080s</text>
<line x1="60" y1="232.7" x2="66.5" y2="232.7" stroke="#000" stroke-width="1.2"/>
<line x1="60" y1="266.5" x2="66.5" y2="266.5" stroke="#000" stroke-width="1.2"/>
<text x="54" y="271.9" text-anchor="end" fill="#000" stroke="#000" stroke-width="0.12" style="font-family:'Liberation Sans',sans-serif;font-size:13.7px">10<tspan style="font-size:12.5px" dy="0.8">°</tspan><tspan dy='-0.8'>N</tspan></text>
<line x1="60" y1="300.3" x2="66.5" y2="300.3" stroke="#000" stroke-width="1.2"/>
<text x="54" y="305.7" text-anchor="end" fill="#000" stroke="#000" stroke-width="0.12" style="font-family:'Liberation Sans',sans-serif;font-size:13.7px">5<tspan style="font-size:12.5px" dy="0.8">°</tspan><tspan dy='-0.8'>N</tspan></text>
<line x1="60" y1="334.1" x2="66.5" y2="334.1" stroke="#000" stroke-width="1.2"/>
<text x="54" y="339.5" text-anchor="end" fill="#000" stroke="#000" stroke-width="0.12" style="font-family:'Liberation Sans',sans-serif;font-size:13.7px">0<tspan style="font-size:12.5px" dy="0.8">°</tspan></text>
<line x1="60" y1="367.9" x2="66.5" y2="367.9" stroke="#000" stroke-width="1.2"/>
<text x="54" y="373.3" text-anchor="end" fill="#000" stroke="#000" stroke-width="0.12" style="font-family:'Liberation Sans',sans-serif;font-size:13.7px">5<tspan style="font-size:12.5px" dy="0.8">°</tspan><tspan dy='-0.8'>S</tspan></text>
<line x1="60" y1="401.7" x2="66.5" y2="401.7" stroke="#000" stroke-width="1.2"/>
<text x="54" y="407.1" text-anchor="end" fill="#000" stroke="#000" stroke-width="0.12" style="font-family:'Liberation Sans',sans-serif;font-size:13.7px">10<tspan style="font-size:12.5px" dy="0.8">°</tspan><tspan dy='-0.8'>S</tspan></text>
<rect x="66.5" y="418.4" width="138.3" height="22.8" fill="#FFE5CC" stroke="#000" stroke-width="1.2"/>
<rect x="66.5" y="441.2" width="138.3" height="181.4" fill="none" stroke="#000" stroke-width="1.2"/>
<text transform="translate(134.8,436.9) scale(0.962,1)" x="0" y="0" text-anchor="middle" fill="#0000FF" stroke="#0000FF" stroke-width="0.12" style="font-family:'Liberation Sans',sans-serif;font-size:20px">Rcp85-2020s</text>
<rect x="212.0" y="418.4" width="137.1" height="22.8" fill="#FFE5CC" stroke="#000" stroke-width="1.2"/>
<rect x="212.0" y="441.2" width="137.1" height="181.4" fill="none" stroke="#000" stroke-width="1.2"/>
<text transform="translate(279.8,436.9) scale(0.962,1)" x="0" y="0" text-anchor="middle" fill="#0000FF" stroke="#0000FF" stroke-width="0.12" style="font-family:'Liberation Sans',sans-serif;font-size:20px">Rcp85-2050s</text>
<rect x="358.0" y="418.4" width="136.9" height="22.8" fill="#FFE5CC" stroke="#000" stroke-width="1.2"/>
<rect x="358.0" y="441.2" width="136.9" height="181.4" fill="none" stroke="#000" stroke-width="1.2"/>
<text transform="translate(425.6,436.9) scale(0.962,1)" x="0" y="0" text-anchor="middle" fill="#0000FF" stroke="#0000FF" stroke-width="0.12" style="font-family:'Liberation Sans',sans-serif;font-size:20px">Rcp85-2080s</text>
<line x1="60" y1="441.0" x2="66.5" y2="441.0" stroke="#000" stroke-width="1.2"/>
<line x1="60" y1="474.8" x2="66.5" y2="474.8" stroke="#000" stroke-width="1.2"/>
<text x="54" y="480.2" text-anchor="end" fill="#000" stroke="#000" stroke-width="0.12" style="font-family:'Liberation Sans',sans-serif;font-size:13.7px">10<tspan style="font-size:12.5px" dy="0.8">°</tspan><tspan dy='-0.8'>N</tspan></text>
<line x1="60" y1="508.6" x2="66.5" y2="508.6" stroke="#000" stroke-width="1.2"/>
<text x="54" y="514.0" text-anchor="end" fill="#000" stroke="#000" stroke-width="0.12" style="font-family:'Liberation Sans',sans-serif;font-size:13.7px">5<tspan style="font-size:12.5px" dy="0.8">°</tspan><tspan dy='-0.8'>N</tspan></text>
<line x1="60" y1="542.4" x2="66.5" y2="542.4" stroke="#000" stroke-width="1.2"/>
<text x="54" y="547.8" text-anchor="end" fill="#000" stroke="#000" stroke-width="0.12" style="font-family:'Liberation Sans',sans-serif;font-size:13.7px">0<tspan style="font-size:12.5px" dy="0.8">°</tspan></text>
<line x1="60" y1="576.2" x2="66.5" y2="576.2" stroke="#000" stroke-width="1.2"/>
<text x="54" y="581.6" text-anchor="end" fill="#000" stroke="#000" stroke-width="0.12" style="font-family:'Liberation Sans',sans-serif;font-size:13.7px">5<tspan style="font-size:12.5px" dy="0.8">°</tspan><tspan dy='-0.8'>S</tspan></text>
<line x1="60" y1="610.0" x2="66.5" y2="610.0" stroke="#000" stroke-width="1.2"/>
<text x="54" y="615.4" text-anchor="end" fill="#000" stroke="#000" stroke-width="0.12" style="font-family:'Liberation Sans',sans-serif;font-size:13.7px">10<tspan style="font-size:12.5px" dy="0.8">°</tspan><tspan dy='-0.8'>S</tspan></text>
<line x1="80.4" y1="622.6" x2="80.4" y2="629.5" stroke="#000" stroke-width="1.2"/>
<text x="79.5" y="647.2" text-anchor="middle" fill="#000" stroke="#000" stroke-width="0.12" style="font-family:'Liberation Sans',sans-serif;font-size:13.7px">30<tspan style="font-size:12.5px" dy="1.2">°</tspan><tspan dy="-1.2">E</tspan></text>
<line x1="113.7" y1="622.6" x2="113.7" y2="629.5" stroke="#000" stroke-width="1.2"/>
<text x="112.8" y="647.2" text-anchor="middle" fill="#000" stroke="#000" stroke-width="0.12" style="font-family:'Liberation Sans',sans-serif;font-size:13.7px">35<tspan style="font-size:12.5px" dy="1.2">°</tspan><tspan dy="-1.2">E</tspan></text>
<line x1="147.3" y1="622.6" x2="147.3" y2="629.5" stroke="#000" stroke-width="1.2"/>
<text x="146.4" y="647.2" text-anchor="middle" fill="#000" stroke="#000" stroke-width="0.12" style="font-family:'Liberation Sans',sans-serif;font-size:13.7px">40<tspan style="font-size:12.5px" dy="1.2">°</tspan><tspan dy="-1.2">E</tspan></text>
<line x1="181.1" y1="622.6" x2="181.1" y2="629.5" stroke="#000" stroke-width="1.2"/>
<text x="180.2" y="647.2" text-anchor="middle" fill="#000" stroke="#000" stroke-width="0.12" style="font-family:'Liberation Sans',sans-serif;font-size:13.7px">45<tspan style="font-size:12.5px" dy="1.2">°</tspan><tspan dy="-1.2">E</tspan></text>
<line x1="225.3" y1="622.6" x2="225.3" y2="629.5" stroke="#000" stroke-width="1.2"/>
<text x="225.2" y="647.2" text-anchor="middle" fill="#000" stroke="#000" stroke-width="0.12" style="font-family:'Liberation Sans',sans-serif;font-size:13.7px">30<tspan style="font-size:12.5px" dy="1.2">°</tspan><tspan dy="-1.2">E</tspan></text>
<line x1="259.0" y1="622.6" x2="259.0" y2="629.5" stroke="#000" stroke-width="1.2"/>
<text x="258.9" y="647.2" text-anchor="middle" fill="#000" stroke="#000" stroke-width="0.12" style="font-family:'Liberation Sans',sans-serif;font-size:13.7px">35<tspan style="font-size:12.5px" dy="1.2">°</tspan><tspan dy="-1.2">E</tspan></text>
<line x1="293.2" y1="622.6" x2="293.2" y2="629.5" stroke="#000" stroke-width="1.2"/>
<text x="293.1" y="647.2" text-anchor="middle" fill="#000" stroke="#000" stroke-width="0.12" style="font-family:'Liberation Sans',sans-serif;font-size:13.7px">40<tspan style="font-size:12.5px" dy="1.2">°</tspan><tspan dy="-1.2">E</tspan></text>
<line x1="327.0" y1="622.6" x2="327.0" y2="629.5" stroke="#000" stroke-width="1.2"/>
<text x="326.9" y="647.2" text-anchor="middle" fill="#000" stroke="#000" stroke-width="0.12" style="font-family:'Liberation Sans',sans-serif;font-size:13.7px">45<tspan style="font-size:12.5px" dy="1.2">°</tspan><tspan dy="-1.2">E</tspan></text>
<line x1="370.9" y1="622.6" x2="370.9" y2="629.5" stroke="#000" stroke-width="1.2"/>
<text x="370.8" y="647.2" text-anchor="middle" fill="#000" stroke="#000" stroke-width="0.12" style="font-family:'Liberation Sans',sans-serif;font-size:13.7px">30<tspan style="font-size:12.5px" dy="1.2">°</tspan><tspan dy="-1.2">E</tspan></text>
<line x1="404.2" y1="622.6" x2="404.2" y2="629.5" stroke="#000" stroke-width="1.2"/>
<text x="404.1" y="647.2" text-anchor="middle" fill="#000" stroke="#000" stroke-width="0.12" style="font-family:'Liberation Sans',sans-serif;font-size:13.7px">35<tspan style="font-size:12.5px" dy="1.2">°</tspan><tspan dy="-1.2">E</tspan></text>
<line x1="437.5" y1="622.6" x2="437.5" y2="629.5" stroke="#000" stroke-width="1.2"/>
<text x="437.4" y="647.2" text-anchor="middle" fill="#000" stroke="#000" stroke-width="0.12" style="font-family:'Liberation Sans',sans-serif;font-size:13.7px">40<tspan style="font-size:12.5px" dy="1.2">°</tspan><tspan dy="-1.2">E</tspan></text>
<line x1="471.2" y1="622.6" x2="471.2" y2="629.5" stroke="#000" stroke-width="1.2"/>
<text x="471.1" y="647.2" text-anchor="middle" fill="#000" stroke="#000" stroke-width="0.12" style="font-family:'Liberation Sans',sans-serif;font-size:13.7px">45<tspan style="font-size:12.5px" dy="1.2">°</tspan><tspan dy="-1.2">E</tspan></text>
<text x="280.3" y="669.6" text-anchor="middle" fill="#000" stroke="#000" stroke-width="0.12" style="font-family:'Liberation Sans',sans-serif;font-size:13.7px">Longitude</text>
<text transform="translate(12.4,324) rotate(-90)" x="0" y="0" text-anchor="middle" fill="#000" stroke="#000" stroke-width="0.12" style="font-family:'Liberation Sans',sans-serif;font-size:13.7px">Latitude</text>
<rect x="501.3" y="2" width="12.8" height="620.7" fill="url(#cb)" stroke="#000" stroke-width="1.2"/>
<line x1="514.1" y1="542.0" x2="520" y2="542.0" stroke="#000" stroke-width="1.2"/>
<text x="523.4" y="547.8" fill="#000" stroke="#000" stroke-width="0.12" style="font-family:'Liberation Sans',sans-serif;font-size:13.7px">0</text>
<line x1="514.1" y1="455.3" x2="520" y2="455.3" stroke="#000" stroke-width="1.2"/>
<text x="523.4" y="461.1" fill="#000" stroke="#000" stroke-width="0.12" style="font-family:'Liberation Sans',sans-serif;font-size:13.7px">1</text>
<line x1="514.1" y1="368.7" x2="520" y2="368.7" stroke="#000" stroke-width="1.2"/>
<text x="523.4" y="374.5" fill="#000" stroke="#000" stroke-width="0.12" style="font-family:'Liberation Sans',sans-serif;font-size:13.7px">2</text>
<line x1="514.1" y1="282.0" x2="520" y2="282.0" stroke="#000" stroke-width="1.2"/>
<text x="523.4" y="287.8" fill="#000" stroke="#000" stroke-width="0.12" style="font-family:'Liberation Sans',sans-serif;font-size:13.7px">3</text>
<line x1="514.1" y1="195.3" x2="520" y2="195.3" stroke="#000" stroke-width="1.2"/>
<text x="523.4" y="201.1" fill="#000" stroke="#000" stroke-width="0.12" style="font-family:'Liberation Sans',sans-serif;font-size:13.7px">4</text>
<line x1="514.1" y1="108.6" x2="520" y2="108.6" stroke="#000" stroke-width="1.2"/>
<text x="523.4" y="114.4" fill="#000" stroke="#000" stroke-width="0.12" style="font-family:'Liberation Sans',sans-serif;font-size:13.7px">5</text>
<line x1="514.1" y1="22.0" x2="520" y2="22.0" stroke="#000" stroke-width="1.2"/>
<text x="523.4" y="27.8" fill="#000" stroke="#000" stroke-width="0.12" style="font-family:'Liberation Sans',sans-serif;font-size:13.7px">6</text>
</svg></body></html>
